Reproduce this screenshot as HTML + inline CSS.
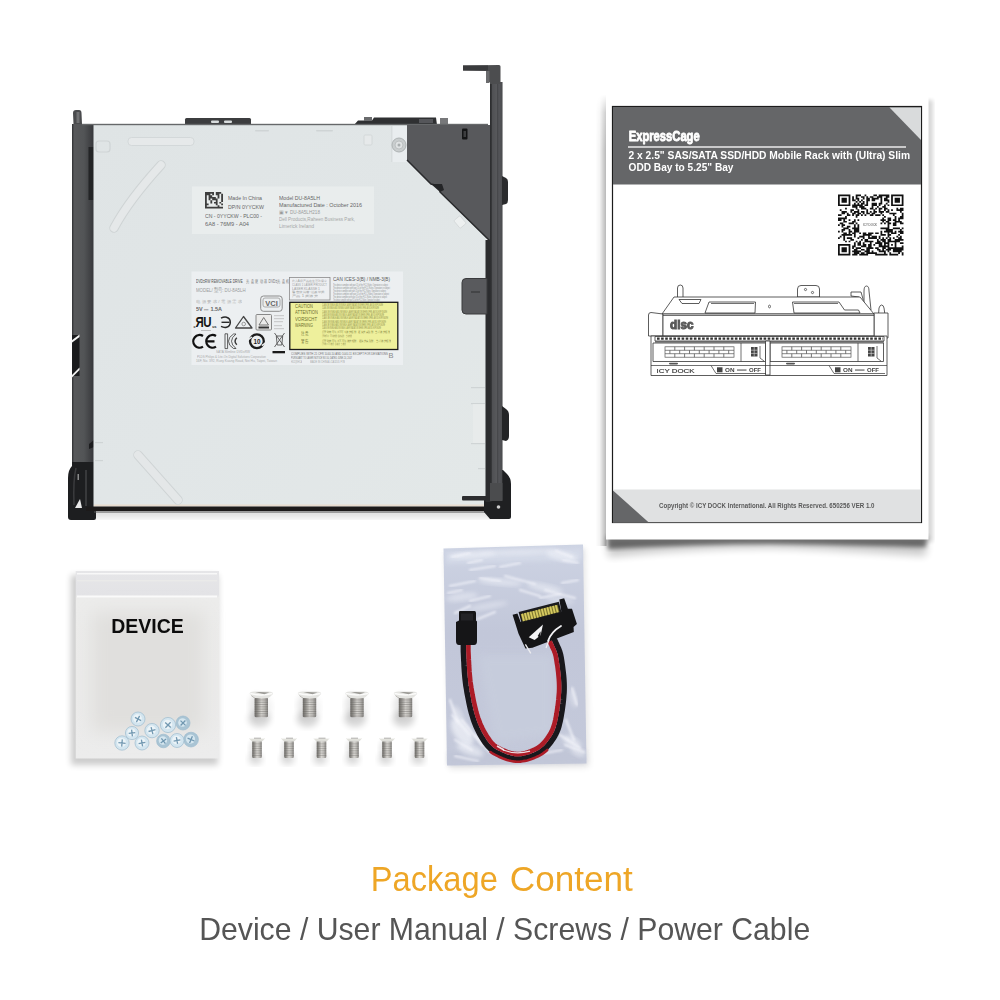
<!DOCTYPE html>
<html><head><meta charset="utf-8"><title>Package Content</title>
<style>
html,body{margin:0;padding:0;background:#fff;}
body{width:1000px;height:1000px;overflow:hidden;font-family:"Liberation Sans",sans-serif;}
svg{display:block;position:absolute;left:0;top:0}
text{font-family:"Liberation Sans",sans-serif;}
</style></head><body>
<svg width="1000" height="1000" viewBox="0 0 1000 1000">
<defs>
<filter id="b1" x="-20%" y="-20%" width="140%" height="140%"><feGaussianBlur stdDeviation="1"/></filter>
<filter id="b2" x="-20%" y="-20%" width="140%" height="140%"><feGaussianBlur stdDeviation="2"/></filter>
<filter id="b3" x="-20%" y="-20%" width="140%" height="140%"><feGaussianBlur stdDeviation="3"/></filter>
<filter id="b4" x="-30%" y="-30%" width="160%" height="160%"><feGaussianBlur stdDeviation="4.5"/></filter>
<filter id="b05" x="-20%" y="-20%" width="140%" height="140%"><feGaussianBlur stdDeviation="0.5"/></filter>
<linearGradient id="silver" x1="0" y1="0" x2="1" y2="1">
<stop offset="0" stop-color="#dfe4e5"/><stop offset="0.5" stop-color="#e1e6e7"/><stop offset="1" stop-color="#e3e8e8"/>
</linearGradient>
<linearGradient id="lframe" x1="0" y1="0" x2="1" y2="0">
<stop offset="0" stop-color="#2f3032"/><stop offset="0.1" stop-color="#58595b"/><stop offset="0.55" stop-color="#525456"/><stop offset="0.85" stop-color="#3f4043"/><stop offset="1" stop-color="#35363a"/>
</linearGradient>
<linearGradient id="rrail" x1="0" y1="0" x2="1" y2="0">
<stop offset="0" stop-color="#2c2d2f"/><stop offset="0.1" stop-color="#303133"/><stop offset="0.2" stop-color="#505154"/><stop offset="0.55" stop-color="#58595c"/><stop offset="0.62" stop-color="#404144"/><stop offset="0.7" stop-color="#55565a"/><stop offset="0.95" stop-color="#4c4d50"/><stop offset="1" stop-color="#3a3b3d"/>
</linearGradient>
<linearGradient id="screwg" x1="0" y1="0" x2="1" y2="0">
<stop offset="0" stop-color="#77776f"/><stop offset="0.35" stop-color="#d9d9d4"/><stop offset="0.6" stop-color="#c4c4be"/><stop offset="1" stop-color="#7d7d76"/>
</linearGradient>
</defs>
<g id="drive" opacity="0.999">
<rect x="76" y="508" width="430" height="10" fill="#000" opacity="0.12" filter="url(#b3)"/>
<rect x="185" y="118" width="66" height="8" rx="1.5" fill="#3c3d3f"/>
<rect x="211" y="120.5" width="8" height="2.5" rx="1" fill="#d8dcdd"/><rect x="224" y="120.5" width="8" height="2.5" rx="1" fill="#d8dcdd"/>
<path d="M354 125 L358 120.5 L372 120.5 L374 117.5 L436 117.5 L437 125 Z" fill="#2f3032"/>
<rect x="364" y="117" width="8" height="4" fill="#6a6b6d"/><rect x="440" y="118" width="8" height="6" fill="#77787a"/><rect x="419" y="119" width="14" height="4" fill="#55565a"/>
<path d="M73.5 124 L73 113 Q73 110 76 110 L79 110 Q81.5 110 81.5 113 L82 124 Z" fill="#4a4b4d"/>
<rect x="76.5" y="112" width="3" height="11" fill="#8a8b8d" opacity="0.6"/>
<rect x="72" y="124" width="22" height="342" fill="url(#lframe)"/>
<path d="M72 462 L94 462 L94 509 L96 509 L96 518 Q96 520 94 520 L71 520 Q68 520 68 517 L68 478 Q68 470 72 466 Z" fill="#1d1e20"/>
<path d="M76 468 Q73 480 74 505" stroke="#3a3b3d" stroke-width="1.5" fill="none"/>
<path d="M86 470 L86 506" stroke="#38393b" stroke-width="2" fill="none"/>
<path d="M75 508 L80 499 L82 508 Z" fill="#e8e8e8"/>
<rect x="77.5" y="474" width="1.5" height="6" fill="#bbb" opacity="0.7"/>
<path d="M94 147 L88.500 147 L88.500 200 L94 200 Z" fill="#232426"/>
<path d="M72 335 L79.500 335 L79.500 376 L72 376 Z" fill="#1a1b1d"/>
<path d="M71.500 340.500 L79.500 334.500 L79.500 337 L71.500 343 Z" fill="#f4f4f4"/>
<path d="M71.500 375.500 L79.500 367.500 L79.500 370 L71.500 378 Z" fill="#f4f4f4"/>
<path d="M94 440 L89 444 L89 449 L94 447 Z" fill="#1b1c1e"/>
<rect x="93.5" y="125" width="393" height="382" fill="url(#silver)"/>
<rect x="82" y="123.800" width="406" height="1.400" fill="#66686a"/>
<rect x="94" y="504.5" width="392" height="2" fill="#e8d8c8" opacity="0.8"/>
<rect x="86" y="506.5" width="404" height="4.5" fill="#1c1a1a"/>
<rect x="94" y="511" width="392" height="2" fill="#555" opacity="0.5"/>
<rect x="128" y="137.5" width="66" height="8" rx="3.5" fill="#e6e9ea" stroke="#cfd4d5" stroke-width="0.8"/>
<path d="M161 165 Q129 200 114 228" stroke="#cfd4d5" stroke-width="9.5" stroke-linecap="round" fill="none"/>
<path d="M161 165 Q129 200 114 228" stroke="#e5e8e9" stroke-width="7.5" stroke-linecap="round" fill="none"/>
<path d="M138 455 L178 500" stroke="#cfd4d5" stroke-width="9.5" stroke-linecap="round" fill="none"/>
<path d="M138 455 L178 500" stroke="#e4e7e8" stroke-width="7.8" stroke-linecap="round" fill="none"/>
<rect x="96" y="141" width="14" height="11" rx="3" fill="none" stroke="#cfd4d5" stroke-width="1.2"/>
<rect x="364" y="135" width="8" height="10" rx="1" fill="#e6e9ea" stroke="#cfd4d5" stroke-width="0.8"/>
<rect x="316" y="130" width="17" height="1.6" rx="0.8" fill="#cfd4d5"/>
<rect x="255" y="130" width="14" height="1.4" rx="0.7" fill="#cfd4d5"/>
<rect x="456" y="217" width="8" height="10" rx="1" fill="#edf0f0" stroke="#cfd4d5" stroke-width="0.7" transform="rotate(-40 460 222)"/>
<rect x="471" y="387" width="14" height="1.2" fill="#cfd4d5"/><rect x="471" y="403" width="14" height="1.2" fill="#cfd4d5"/><rect x="471" y="443" width="14" height="1.2" fill="#cfd4d5"/><rect x="478" y="468" width="7" height="1.2" fill="#cfd4d5"/>
<rect x="473" y="404" width="12" height="39" fill="#e9ecec" opacity="0.7"/>
<rect x="95" y="442" width="8" height="1.2" fill="#cfd4d5"/><rect x="95" y="460" width="8" height="1.2" fill="#cfd4d5"/>
<rect x="392" y="126" width="15" height="36" fill="#e9edef"/><rect x="391.500" y="126" width="0.800" height="36" fill="#cfd4d5"/>
<circle cx="399" cy="145" r="7" fill="#c9cdce" stroke="#aeb3b4" stroke-width="1"/><circle cx="399" cy="145" r="4" fill="#dfe2e3" stroke="#b5babb" stroke-width="0.8"/><circle cx="399" cy="145" r="1.5" fill="#a9aeaf"/>
<path d="M407 125 L490.500 125 L490.500 242 L440 192 L440 186 L431 184 L407 160 Z" fill="#58595c"/>
<path d="M407 160 L431 184 L440 186 L440 192 L490 241" stroke="#2a2b2d" stroke-width="1.5" fill="none"/>
<path d="M431 184 L442 184 L444 190 L440 192 Z" fill="#242527"/>
<rect x="462" y="128.5" width="5.5" height="11" rx="1" fill="#141516"/><rect x="463.5" y="131" width="2.5" height="6" fill="#3d3e40"/>
<path d="M486 470 L503 470 L507 474 Q511 478 511 484 L511 517 Q511 519 509 519 L490 519 L484 512 L484 500 L486 498 Z" fill="#1f2022"/>
<rect x="462" y="496" width="25" height="4.500" rx="1" fill="#2c2d2f"/>
<rect x="485.500" y="240" width="6" height="262" fill="#2b2c2e"/>
<rect x="490" y="82" width="12.5" height="418" fill="url(#rrail)"/>
<rect x="490" y="483" width="12.500" height="18" fill="#4b4c4e"/>
<circle cx="498.500" cy="507" r="1.800" fill="#cfcfcf"/>
<path d="M463 65.500 L499 65 Q500.500 65 500.500 66.500 L500.500 84 L490 84 L490 82 L486 82 L486 71 L463 70.500 Z" fill="#4c4d4f"/>
<rect x="463" y="65.500" width="25" height="5" fill="#3a3b3d"/>
<rect x="486" y="71" width="3.500" height="12" fill="#6a6b6d"/>
<path d="M502 176 L506 178 Q508 179 508 182 L508 200 Q508 203 506 204 L502 205 Z" fill="#2a2b2d"/>
<path d="M502 406 L506 409 Q509 411 509 415 L509 436 Q509 440 506 441 L502 440 Z" fill="#232426"/>
<path d="M466 278.500 L487 278.500 L487 314 L466 314 Q462 314 462 310 L462 282.500 Q462 278.500 466 278.500 Z" fill="#595a5d" stroke="#3a3b3d" stroke-width="1"/><rect x="471" y="291" width="9" height="2" fill="#3f4042" opacity="0.8"/>
<rect x="192" y="186.500" width="182" height="47.500" fill="#e9eded"/>
<path d="M205.00 192.00h1.80v1.65h-1.80zM206.80 192.00h1.80v1.65h-1.80zM208.60 192.00h1.80v1.65h-1.80zM210.40 192.00h1.80v1.65h-1.80zM212.20 192.00h1.80v1.65h-1.80zM215.80 192.00h1.80v1.65h-1.80zM217.60 192.00h1.80v1.65h-1.80zM219.40 192.00h1.80v1.65h-1.80zM205.00 193.65h1.80v1.65h-1.80zM206.80 193.65h1.80v1.65h-1.80zM208.60 193.65h1.80v1.65h-1.80zM212.20 193.65h1.80v1.65h-1.80zM215.80 193.65h1.80v1.65h-1.80zM217.60 193.65h1.80v1.65h-1.80zM221.20 193.65h1.80v1.65h-1.80zM205.00 195.30h1.80v1.65h-1.80zM208.60 195.30h1.80v1.65h-1.80zM210.40 195.30h1.80v1.65h-1.80zM217.60 195.30h1.80v1.65h-1.80zM221.20 195.30h1.80v1.65h-1.80zM205.00 196.95h1.80v1.65h-1.80zM208.60 196.95h1.80v1.65h-1.80zM210.40 196.95h1.80v1.65h-1.80zM212.20 196.95h1.80v1.65h-1.80zM214.00 196.95h1.80v1.65h-1.80zM217.60 196.95h1.80v1.65h-1.80zM221.20 196.95h1.80v1.65h-1.80zM205.00 198.60h1.80v1.65h-1.80zM208.60 198.60h1.80v1.65h-1.80zM212.20 198.60h1.80v1.65h-1.80zM214.00 198.60h1.80v1.65h-1.80zM215.80 198.60h1.80v1.65h-1.80zM221.20 198.60h1.80v1.65h-1.80zM205.00 200.25h1.80v1.65h-1.80zM210.40 200.25h1.80v1.65h-1.80zM215.80 200.25h1.80v1.65h-1.80zM221.20 200.25h1.80v1.65h-1.80zM205.00 201.90h1.80v1.65h-1.80zM210.40 201.90h1.80v1.65h-1.80zM214.00 201.90h1.80v1.65h-1.80zM215.80 201.90h1.80v1.65h-1.80zM219.40 201.90h1.80v1.65h-1.80zM205.00 203.55h1.80v1.65h-1.80zM206.80 203.55h1.80v1.65h-1.80zM215.80 203.55h1.80v1.65h-1.80zM221.20 203.55h1.80v1.65h-1.80zM205.00 205.20h1.80v1.65h-1.80zM217.60 205.20h1.80v1.65h-1.80zM205.00 206.85h1.80v1.65h-1.80zM206.80 206.85h1.80v1.65h-1.80zM208.60 206.85h1.80v1.65h-1.80zM210.40 206.85h1.80v1.65h-1.80zM212.20 206.85h1.80v1.65h-1.80zM214.00 206.85h1.80v1.65h-1.80zM215.80 206.85h1.80v1.65h-1.80zM217.60 206.85h1.80v1.65h-1.80zM219.40 206.85h1.80v1.65h-1.80zM221.20 206.85h1.80v1.65h-1.80z" fill="#2a2a2a" opacity="0.9"/>
<text x="228" y="199.6" font-size="4.8" font-weight="normal" fill="#444" opacity="0.8" textLength="34" lengthAdjust="spacingAndGlyphs">Made In China</text>
<text x="228" y="208.6" font-size="4.8" font-weight="normal" fill="#444" opacity="0.8" textLength="36" lengthAdjust="spacingAndGlyphs">DP/N 0YYCKW</text>
<text x="205" y="217.6" font-size="4.8" font-weight="normal" fill="#444" opacity="0.8" textLength="57" lengthAdjust="spacingAndGlyphs">CN - 0YYCKW - PLC00 -</text>
<text x="205" y="225.6" font-size="4.8" font-weight="normal" fill="#444" opacity="0.8" textLength="44" lengthAdjust="spacingAndGlyphs">6A8 - 76M9 - A04</text>
<text x="279" y="199.6" font-size="4.8" font-weight="normal" fill="#444" opacity="0.8" textLength="41" lengthAdjust="spacingAndGlyphs">Model DU-8A5LH</text>
<text x="279" y="207" font-size="4.8" font-weight="normal" fill="#444" opacity="0.8" textLength="83" lengthAdjust="spacingAndGlyphs">Manufactured Date : October 2016</text>
<text x="279" y="213.8" font-size="4.6" font-weight="normal" fill="#666" opacity="0.6" textLength="41" lengthAdjust="spacingAndGlyphs">&#9635;&#9660; DU-8A5LH218</text>
<text x="279" y="221.4" font-size="4.6" font-weight="normal" fill="#777" opacity="0.6" textLength="76" lengthAdjust="spacingAndGlyphs">Dell Products,Raheen Business Park,</text>
<text x="279" y="227.6" font-size="4.6" font-weight="normal" fill="#777" opacity="0.6" textLength="35" lengthAdjust="spacingAndGlyphs">Limerick Ireland</text>
<rect x="191.500" y="271.500" width="211.500" height="93.500" fill="#eceff1"/>
<g transform="translate(196 283) scale(0.72 1)"><text x="0" y="0" font-size="5.6" font-weight="normal" fill="#333" opacity="0.85" textLength="65" lengthAdjust="spacingAndGlyphs">DVD±RW REMOVABLE DRIVE</text></g>
<g transform="translate(246 283) scale(0.72 1)"><text x="0" y="0" font-size="5.2" font-weight="normal" fill="#444" opacity="0.7" textLength="61" lengthAdjust="spacingAndGlyphs">光 盘 驱 动 器 DVD±光 盘 机</text></g>
<g transform="translate(196 292.300) scale(0.8 1)"><text x="0" y="0" font-size="5.8" font-weight="normal" fill="#777" opacity="0.7" textLength="62" lengthAdjust="spacingAndGlyphs">MODEL/ 型号: DU-8A5LH</text></g>
<text x="196" y="302.8" font-size="4.4" font-weight="normal" fill="#888" opacity="0.6" textLength="46" lengthAdjust="spacingAndGlyphs">电 源 要 求 / 電 源 需 求</text>
<text x="196" y="310.6" font-size="4.6" font-weight="bold" fill="#444" opacity="0.8" textLength="26" lengthAdjust="spacingAndGlyphs">5V ⎓ 1.5A</text>
<text x="216" y="353.4" font-size="2.9" font-weight="normal" fill="#777" opacity="0.6" textLength="34" lengthAdjust="spacingAndGlyphs">SATA Slimline DVD±RW</text>
<text x="197" y="357.8" font-size="3.1" font-weight="normal" fill="#777" opacity="0.6" textLength="69" lengthAdjust="spacingAndGlyphs">PLDS Philips &amp; Lite-On Digital Solutions Corporation</text>
<text x="196" y="362" font-size="3.3" font-weight="normal" fill="#777" opacity="0.6" textLength="81" lengthAdjust="spacingAndGlyphs">16F, No. 392, Ruey Kuang Road, Nei Hu, Taipei, Taiwan</text>
<text x="291" y="355.4" font-size="3.1" font-weight="normal" fill="#444" opacity="0.75" textLength="97" lengthAdjust="spacingAndGlyphs">COMPLIES WITH 21 CFR 1040.10 AND 1040.11 EXCEPT FOR DEVIATIONS</text>
<text x="291" y="359.2" font-size="3.1" font-weight="normal" fill="#444" opacity="0.75" textLength="61" lengthAdjust="spacingAndGlyphs">PURSUANT TO LASER NOTICE NO.50, DATED JUNE 24, 2007</text>
<text x="291" y="362.8" font-size="3" font-weight="normal" fill="#777" opacity="0.6" textLength="11" lengthAdjust="spacingAndGlyphs">HD2Q8HCA</text>
<text x="310" y="362.8" font-size="3" font-weight="normal" fill="#777" opacity="0.6" textLength="35" lengthAdjust="spacingAndGlyphs">MADE IN CHINA  LCA3205  F7B</text>
<text x="333" y="281.3" font-size="4.8" font-weight="normal" fill="#333" opacity="0.8" textLength="57" lengthAdjust="spacingAndGlyphs">CAN ICES-3(B) / NMB-3(B)</text>
<text x="333" y="285.6" font-size="2.9" font-weight="normal" fill="#555" opacity="0.65" textLength="55" lengthAdjust="spacingAndGlyphs">This device complies with part 15 of the FCC Rules. Operation is subject</text>
<text x="333" y="288.6" font-size="2.9" font-weight="normal" fill="#555" opacity="0.65" textLength="57" lengthAdjust="spacingAndGlyphs">This device complies with part 15 of the FCC Rules. Operation is subject</text>
<text x="333" y="291.6" font-size="2.9" font-weight="normal" fill="#555" opacity="0.65" textLength="53" lengthAdjust="spacingAndGlyphs">This device complies with part 15 of the FCC Rules. Operation is subject</text>
<text x="333" y="294.6" font-size="2.9" font-weight="normal" fill="#555" opacity="0.65" textLength="56" lengthAdjust="spacingAndGlyphs">This device complies with part 15 of the FCC Rules. Operation is subject</text>
<text x="333" y="297.6" font-size="2.9" font-weight="normal" fill="#555" opacity="0.65" textLength="54" lengthAdjust="spacingAndGlyphs">This device complies with part 15 of the FCC Rules. Operation is subject</text>
<text x="333" y="300.6" font-size="2.9" font-weight="normal" fill="#555" opacity="0.65" textLength="47" lengthAdjust="spacingAndGlyphs">This device complies with part 15 of the FCC Rules. Operation is subject</text>
<rect x="289.500" y="277.500" width="40.500" height="22.500" fill="#eef0f2" stroke="#8a8a8a" stroke-width="0.8"/>
<text x="292" y="282" font-size="3" font-weight="normal" fill="#666" opacity="0.6" textLength="35" lengthAdjust="spacingAndGlyphs">此为A级产品,在生活环境中</text>
<text x="292" y="285.8" font-size="3" font-weight="normal" fill="#666" opacity="0.6" textLength="35" lengthAdjust="spacingAndGlyphs">CLASS 1 LASER PRODUCT</text>
<text x="292" y="289.6" font-size="3" font-weight="normal" fill="#666" opacity="0.6" textLength="28" lengthAdjust="spacingAndGlyphs">LASER KLASSE 1</text>
<text x="292" y="293.40000000000003" font-size="3" font-weight="normal" fill="#666" opacity="0.6" textLength="33" lengthAdjust="spacingAndGlyphs">警告使用者:这是甲类</text>
<text x="292" y="297.20000000000005" font-size="3" font-weight="normal" fill="#666" opacity="0.6" textLength="26" lengthAdjust="spacingAndGlyphs">产品 1 类激光</text>
<rect x="260.700" y="296" width="21.500" height="15.300" rx="2.800" fill="none" stroke="#8c8c8c" stroke-width="1"/>
<rect x="263" y="298" width="17" height="9" rx="2" fill="none" stroke="#9a9a9a" stroke-width="0.8"/>
<text opacity="0.999" x="265.300" y="306.300" font-size="7" font-weight="bold" fill="#666" textLength="12.500" lengthAdjust="spacingAndGlyphs">VCI</text>
<g transform="translate(203.800 327.400) scale(-0.82 1)"><text opacity="0.999" x="0" y="0" font-size="14" font-weight="bold" fill="#151515">R</text></g>
<g transform="translate(203.300 327.400) scale(0.82 1)"><text opacity="0.999" x="0" y="0" font-size="14" font-weight="bold" fill="#151515">U</text></g>
<text opacity="0.999" x="193.500" y="328" font-size="3.600" font-weight="bold" fill="#222">c</text><text opacity="0.999" x="212.300" y="328" font-size="3.600" font-weight="bold" fill="#222">us</text>
<rect x="201" y="330" width="10" height="0.800" fill="#777" opacity="0.5"/>
<path d="M221 318.200 Q224 316.600 226.500 317.200 Q230.300 318.300 230.300 322.300 Q230.300 326.300 226.500 327.300 Q224 327.900 221 326.400" stroke="#2a2a2a" stroke-width="1.500" fill="none"/>
<path d="M221.500 322.300 L229.500 322.300" stroke="#2a2a2a" stroke-width="1.400"/>
<path d="M243.500 316.500 L252 328 L235.500 328 Z" fill="none" stroke="#444" stroke-width="1.300" stroke-linejoin="round"/>
<circle cx="243.700" cy="324" r="1.800" fill="none" stroke="#777" stroke-width="0.700"/>
<rect x="256" y="314.500" width="15.500" height="15.500" rx="1" fill="#ebebea" stroke="#7d7d7d" stroke-width="0.900"/>
<path d="M263.700 317.500 L268.500 325 L259 325 Z" fill="none" stroke="#666" stroke-width="0.900"/>
<rect x="258.500" y="326.500" width="10.500" height="2" fill="#333"/>
<rect x="274" y="315" width="10" height="1.2" fill="#aaa" opacity="0.5"/>
<rect x="274" y="318" width="10" height="1.2" fill="#aaa" opacity="0.5"/>
<rect x="274" y="321" width="9" height="1.2" fill="#aaa" opacity="0.5"/>
<rect x="274" y="325" width="8" height="1.2" fill="#aaa" opacity="0.5"/>
<rect x="274" y="328" width="10" height="1.2" fill="#aaa" opacity="0.5"/>
<path d="M203 336 A6.3 6.3 0 1 0 203 346.600" stroke="#111" stroke-width="2.300" fill="none"/>
<path d="M216 336 A6.3 6.3 0 1 0 216 346.600 M207.300 341.300 L214.500 341.300" stroke="#111" stroke-width="2.300" fill="none"/>
<path d="M225 333.800 L227.600 333.800 L227.600 348.600 L225 348.600 Z" fill="none" stroke="#3a3a3a" stroke-width="0.800"/>
<path d="M236 334 L233.500 334 Q228.500 337 228.500 341.200 Q228.500 345.500 233.500 348.500 L236 348.500 Q231.500 345 231.500 341.200 Q231.500 337.500 236 334 Z" fill="none" stroke="#3a3a3a" stroke-width="0.800"/>
<path d="M236.800 337.800 Q233.300 341.200 236.800 344.800" stroke="#3a3a3a" stroke-width="1.500" fill="none"/>
<circle cx="256.900" cy="341.300" r="6.900" fill="none" stroke="#1c1c1c" stroke-width="2.300"/>
<text opacity="0.999" x="253.500" y="343.700" font-size="6.300" font-weight="bold" fill="#1c1c1c" textLength="7" lengthAdjust="spacingAndGlyphs">10</text>
<path d="M248.500 339.500 L252 337 M265.300 343 L261.800 345.600" stroke="#eceff1" stroke-width="1.500"/>
<path d="M274.500 333 L284.500 347 M284.500 333 L274.500 347" stroke="#555" stroke-width="0.900"/>
<path d="M276.300 336 L282.700 336 L281.800 345 L277.200 345 Z" fill="none" stroke="#555" stroke-width="0.900"/>
<rect x="272.500" y="351" width="12.500" height="2.300" fill="#1a1a1a"/>
<rect x="289.800" y="302.300" width="108" height="47.200" fill="#eef09c" stroke="#1a1a1a" stroke-width="1.300"/>
<text x="295" y="308.2" font-size="4.6" font-weight="normal" fill="#55571a" opacity="0.85" textLength="18" lengthAdjust="spacingAndGlyphs">CAUTION</text>
<text x="295" y="314.4" font-size="4.6" font-weight="normal" fill="#55571a" opacity="0.85" textLength="23" lengthAdjust="spacingAndGlyphs">ATTENTION</text>
<text x="295" y="320.9" font-size="4.6" font-weight="normal" fill="#55571a" opacity="0.85" textLength="22" lengthAdjust="spacingAndGlyphs">VORSICHT</text>
<text x="295" y="327.4" font-size="4.6" font-weight="normal" fill="#55571a" opacity="0.85" textLength="18" lengthAdjust="spacingAndGlyphs">WARNING</text>
<text x="301" y="335" font-size="4.6" font-weight="normal" fill="#55571a" opacity="0.85" textLength="8" lengthAdjust="spacingAndGlyphs">注 意</text>
<text x="301" y="343" font-size="4.6" font-weight="normal" fill="#55571a" opacity="0.85" textLength="8" lengthAdjust="spacingAndGlyphs">警 告</text>
<text x="322" y="306.2" font-size="2.9" font-weight="normal" fill="#5e601e" opacity="0.75" textLength="61" lengthAdjust="spacingAndGlyphs">CLASS 3B VISIBLE AND INVISIBLE LASER RADIATION WHEN OPEN. AVOID EXPOSURE</text>
<text x="322" y="309.4" font-size="2.9" font-weight="normal" fill="#5e601e" opacity="0.75" textLength="57" lengthAdjust="spacingAndGlyphs">CLASS 3B VISIBLE AND INVISIBLE LASER RADIATION WHEN OPEN. AVOID EXPOSURE</text>
<text x="322" y="312.8" font-size="2.9" font-weight="normal" fill="#5e601e" opacity="0.75" textLength="65" lengthAdjust="spacingAndGlyphs">CLASS 3B VISIBLE AND INVISIBLE LASER RADIATION WHEN OPEN. AVOID EXPOSURE</text>
<text x="322" y="316.1" font-size="2.9" font-weight="normal" fill="#5e601e" opacity="0.75" textLength="62" lengthAdjust="spacingAndGlyphs">CLASS 3B VISIBLE AND INVISIBLE LASER RADIATION WHEN OPEN. AVOID EXPOSURE</text>
<text x="322" y="319.4" font-size="2.9" font-weight="normal" fill="#5e601e" opacity="0.75" textLength="66" lengthAdjust="spacingAndGlyphs">CLASS 3B VISIBLE AND INVISIBLE LASER RADIATION WHEN OPEN. AVOID EXPOSURE</text>
<text x="322" y="322.7" font-size="2.9" font-weight="normal" fill="#5e601e" opacity="0.75" textLength="64" lengthAdjust="spacingAndGlyphs">CLASS 3B VISIBLE AND INVISIBLE LASER RADIATION WHEN OPEN. AVOID EXPOSURE</text>
<text x="322" y="326" font-size="2.9" font-weight="normal" fill="#5e601e" opacity="0.75" textLength="63" lengthAdjust="spacingAndGlyphs">CLASS 3B VISIBLE AND INVISIBLE LASER RADIATION WHEN OPEN. AVOID EXPOSURE</text>
<text x="322" y="329.3" font-size="2.9" font-weight="normal" fill="#5e601e" opacity="0.75" textLength="59" lengthAdjust="spacingAndGlyphs">CLASS 3B VISIBLE AND INVISIBLE LASER RADIATION WHEN OPEN. AVOID EXPOSURE</text>
<text x="322" y="333.3" font-size="3.2" font-weight="normal" fill="#5e601e" opacity="0.75" textLength="68" lengthAdjust="spacingAndGlyphs">打开时有可见及不可见激光辐射。避免光束照射。当心激光辐射</text>
<text x="322" y="337.1" font-size="3.2" font-weight="normal" fill="#5e601e" opacity="0.75" textLength="30" lengthAdjust="spacingAndGlyphs">打开时有可见及不可见激光辐射。避免光束照射。当心激光辐射</text>
<text x="322" y="341.6" font-size="3.2" font-weight="normal" fill="#5e601e" opacity="0.75" textLength="69" lengthAdjust="spacingAndGlyphs">打开时有可见及不可见激光辐射。避免光束照射。当心激光辐射</text>
<text x="322" y="345.4" font-size="3.2" font-weight="normal" fill="#5e601e" opacity="0.75" textLength="24" lengthAdjust="spacingAndGlyphs">打开时有可见及不可见激光辐射。避免光束照射。当心激光辐射</text>
<text opacity="0.999" x="388.500" y="358.200" font-size="7.500" fill="#8a8a8a">B</text>
</g>
<g id="manual" opacity="0.999">
<path d="M607 538 L927 538 L926 556 Q800 548 770 548 Q700 548 608 557 Z" fill="#000" opacity="0.22" filter="url(#b4)"/>
<path d="M607 536 L927 536 L926 547 Q800 544 770 544 Q700 544 608 549 Z" fill="#000" opacity="0.50" filter="url(#b2)"/>
<linearGradient id="lsh" x1="0" y1="0" x2="1" y2="0"><stop offset="0" stop-color="#000" stop-opacity="0"/><stop offset="0.4" stop-color="#000" stop-opacity="0.05"/><stop offset="1" stop-color="#000" stop-opacity="0.30"/></linearGradient>
<linearGradient id="lshm" x1="0" y1="0" x2="0" y2="1"><stop offset="0" stop-color="#fff" stop-opacity="0"/><stop offset="0.04" stop-color="#fff" stop-opacity="0.7"/><stop offset="0.12" stop-color="#fff" stop-opacity="1"/><stop offset="1" stop-color="#fff" stop-opacity="1"/></linearGradient>
<mask id="lshmask"><rect x="590" y="94" width="20" height="460" fill="url(#lshm)"/></mask>
<rect x="595" y="94" width="11.500" height="452" fill="url(#lsh)" mask="url(#lshmask)"/>
<rect x="925" y="100" width="8" height="442" fill="#000" opacity="0.16" filter="url(#b2)"/>
<rect x="606" y="95" width="322.500" height="444.500" fill="#ffffff"/>
<rect x="612.500" y="106.500" width="309" height="416" fill="#fff" stroke="#1c1c1c" stroke-width="1.200"/>
<rect x="613" y="107" width="308" height="77.500" fill="#656668"/>
<path d="M889.500 107.500 L921 107.500 L921 140 Z" fill="#d9dbdc"/>
<g transform="translate(628.700 141.400) scale(0.62 1)"><text opacity="0.999" x="0" y="0" font-size="14.800" font-weight="bold" fill="#fff" stroke="#fff" stroke-width="0.900" stroke-linejoin="round" textLength="114.500" lengthAdjust="spacingAndGlyphs">ExpressCage</text></g>
<rect x="628" y="146.300" width="278" height="1.400" fill="#f4f4f4"/>
<text opacity="0.999" x="628.500" y="159.200" font-size="10" font-weight="bold" fill="#fff" textLength="281.500" lengthAdjust="spacingAndGlyphs">2 x 2.5" SAS/SATA SSD/HDD Mobile Rack with (Ultra) Slim</text>
<text opacity="0.999" x="628.500" y="170.700" font-size="10" font-weight="bold" fill="#fff" textLength="105" lengthAdjust="spacingAndGlyphs">ODD Bay to 5.25" Bay</text>
<path d="M838.00 194.50h12.39v1.70h-12.39zM855.70 194.50h5.31v1.70h-5.31zM864.55 194.50h1.77v1.70h-1.77zM873.41 194.50h3.54v1.70h-3.54zM878.72 194.50h10.62v1.70h-10.62zM891.11 194.50h12.39v1.70h-12.39zM838.00 196.15h1.77v1.70h-1.77zM848.62 196.15h1.77v1.70h-1.77zM852.16 196.15h1.77v1.70h-1.77zM855.70 196.15h1.77v1.70h-1.77zM861.01 196.15h3.54v1.70h-3.54zM866.32 196.15h1.77v1.70h-1.77zM869.86 196.15h3.54v1.70h-3.54zM876.95 196.15h5.31v1.70h-5.31zM885.80 196.15h3.54v1.70h-3.54zM891.11 196.15h1.77v1.70h-1.77zM901.73 196.15h1.77v1.70h-1.77zM838.00 197.80h1.77v1.70h-1.77zM841.54 197.80h5.31v1.70h-5.31zM848.62 197.80h1.77v1.70h-1.77zM852.16 197.80h1.77v1.70h-1.77zM855.70 197.80h3.54v1.70h-3.54zM862.78 197.80h1.77v1.70h-1.77zM866.32 197.80h3.54v1.70h-3.54zM871.64 197.80h7.08v1.70h-7.08zM880.49 197.80h1.77v1.70h-1.77zM884.03 197.80h3.54v1.70h-3.54zM891.11 197.80h1.77v1.70h-1.77zM894.65 197.80h5.31v1.70h-5.31zM901.73 197.80h1.77v1.70h-1.77zM838.00 199.45h1.77v1.70h-1.77zM841.54 199.45h5.31v1.70h-5.31zM848.62 199.45h1.77v1.70h-1.77zM852.16 199.45h3.54v1.70h-3.54zM857.47 199.45h1.77v1.70h-1.77zM861.01 199.45h1.77v1.70h-1.77zM866.32 199.45h3.54v1.70h-3.54zM871.64 199.45h3.54v1.70h-3.54zM880.49 199.45h1.77v1.70h-1.77zM884.03 199.45h5.31v1.70h-5.31zM891.11 199.45h1.77v1.70h-1.77zM894.65 199.45h5.31v1.70h-5.31zM901.73 199.45h1.77v1.70h-1.77zM838.00 201.09h1.77v1.70h-1.77zM841.54 201.09h5.31v1.70h-5.31zM848.62 201.09h1.77v1.70h-1.77zM855.70 201.09h1.77v1.70h-1.77zM859.24 201.09h1.77v1.70h-1.77zM862.78 201.09h1.77v1.70h-1.77zM866.32 201.09h1.77v1.70h-1.77zM880.49 201.09h1.77v1.70h-1.77zM887.57 201.09h1.77v1.70h-1.77zM891.11 201.09h1.77v1.70h-1.77zM894.65 201.09h5.31v1.70h-5.31zM901.73 201.09h1.77v1.70h-1.77zM838.00 202.74h1.77v1.70h-1.77zM848.62 202.74h1.77v1.70h-1.77zM853.93 202.74h1.77v1.70h-1.77zM857.47 202.74h1.77v1.70h-1.77zM861.01 202.74h3.54v1.70h-3.54zM866.32 202.74h1.77v1.70h-1.77zM871.64 202.74h5.31v1.70h-5.31zM878.72 202.74h3.54v1.70h-3.54zM885.80 202.74h1.77v1.70h-1.77zM891.11 202.74h1.77v1.70h-1.77zM901.73 202.74h1.77v1.70h-1.77zM838.00 204.39h12.39v1.70h-12.39zM852.16 204.39h10.62v1.70h-10.62zM864.55 204.39h3.54v1.70h-3.54zM871.64 204.39h5.31v1.70h-5.31zM878.72 204.39h1.77v1.70h-1.77zM884.03 204.39h1.77v1.70h-1.77zM887.57 204.39h1.77v1.70h-1.77zM891.11 204.39h12.39v1.70h-12.39zM852.16 206.04h5.31v1.70h-5.31zM859.24 206.04h5.31v1.70h-5.31zM871.64 206.04h1.77v1.70h-1.77zM876.95 206.04h1.77v1.70h-1.77zM882.26 206.04h3.54v1.70h-3.54zM845.08 207.69h1.77v1.70h-1.77zM855.70 207.69h1.77v1.70h-1.77zM861.01 207.69h5.31v1.70h-5.31zM869.86 207.69h3.54v1.70h-3.54zM875.18 207.69h1.77v1.70h-1.77zM878.72 207.69h3.54v1.70h-3.54zM884.03 207.69h3.54v1.70h-3.54zM896.42 207.69h1.77v1.70h-1.77zM899.96 207.69h3.54v1.70h-3.54zM839.77 209.34h1.77v1.70h-1.77zM850.39 209.34h3.54v1.70h-3.54zM857.47 209.34h1.77v1.70h-1.77zM866.32 209.34h1.77v1.70h-1.77zM873.41 209.34h1.77v1.70h-1.77zM878.72 209.34h1.77v1.70h-1.77zM884.03 209.34h1.77v1.70h-1.77zM887.57 209.34h1.77v1.70h-1.77zM891.11 209.34h1.77v1.70h-1.77zM896.42 209.34h7.08v1.70h-7.08zM841.54 210.99h5.31v1.70h-5.31zM850.39 210.99h1.77v1.70h-1.77zM853.93 210.99h5.31v1.70h-5.31zM861.01 210.99h3.54v1.70h-3.54zM866.32 210.99h1.77v1.70h-1.77zM869.86 210.99h1.77v1.70h-1.77zM873.41 210.99h3.54v1.70h-3.54zM878.72 210.99h5.31v1.70h-5.31zM885.80 210.99h3.54v1.70h-3.54zM899.96 210.99h1.77v1.70h-1.77zM841.54 212.64h3.54v1.70h-3.54zM846.85 212.64h1.77v1.70h-1.77zM852.16 212.64h3.54v1.70h-3.54zM857.47 212.64h3.54v1.70h-3.54zM862.78 212.64h1.77v1.70h-1.77zM866.32 212.64h3.54v1.70h-3.54zM871.64 212.64h3.54v1.70h-3.54zM880.49 212.64h1.77v1.70h-1.77zM889.34 212.64h7.08v1.70h-7.08zM901.73 212.64h1.77v1.70h-1.77zM838.00 214.28h3.54v1.70h-3.54zM846.85 214.28h3.54v1.70h-3.54zM852.16 214.28h1.77v1.70h-1.77zM855.70 214.28h3.54v1.70h-3.54zM861.01 214.28h1.77v1.70h-1.77zM864.55 214.28h1.77v1.70h-1.77zM869.86 214.28h3.54v1.70h-3.54zM875.18 214.28h5.31v1.70h-5.31zM882.26 214.28h1.77v1.70h-1.77zM892.88 214.28h1.77v1.70h-1.77zM901.73 214.28h1.77v1.70h-1.77zM845.08 215.93h1.77v1.70h-1.77zM855.70 215.93h1.77v1.70h-1.77zM884.03 215.93h1.77v1.70h-1.77zM894.65 215.93h1.77v1.70h-1.77zM899.96 215.93h3.54v1.70h-3.54zM838.00 217.58h8.85v1.70h-8.85zM882.26 217.58h1.77v1.70h-1.77zM887.57 217.58h3.54v1.70h-3.54zM894.65 217.58h1.77v1.70h-1.77zM898.19 217.58h5.31v1.70h-5.31zM838.00 219.23h3.54v1.70h-3.54zM843.31 219.23h1.77v1.70h-1.77zM848.62 219.23h1.77v1.70h-1.77zM853.93 219.23h1.77v1.70h-1.77zM857.47 219.23h1.77v1.70h-1.77zM880.49 219.23h5.31v1.70h-5.31zM887.57 219.23h3.54v1.70h-3.54zM892.88 219.23h3.54v1.70h-3.54zM898.19 219.23h1.77v1.70h-1.77zM843.31 220.88h3.54v1.70h-3.54zM852.16 220.88h3.54v1.70h-3.54zM882.26 220.88h1.77v1.70h-1.77zM885.80 220.88h3.54v1.70h-3.54zM894.65 220.88h7.08v1.70h-7.08zM839.77 222.53h3.54v1.70h-3.54zM848.62 222.53h5.31v1.70h-5.31zM855.70 222.53h1.77v1.70h-1.77zM880.49 222.53h1.77v1.70h-1.77zM884.03 222.53h1.77v1.70h-1.77zM887.57 222.53h3.54v1.70h-3.54zM892.88 222.53h3.54v1.70h-3.54zM899.96 222.53h3.54v1.70h-3.54zM838.00 224.18h1.77v1.70h-1.77zM841.54 224.18h3.54v1.70h-3.54zM853.93 224.18h1.77v1.70h-1.77zM857.47 224.18h1.77v1.70h-1.77zM887.57 224.18h1.77v1.70h-1.77zM892.88 224.18h3.54v1.70h-3.54zM841.54 225.82h1.77v1.70h-1.77zM846.85 225.82h3.54v1.70h-3.54zM853.93 225.82h1.77v1.70h-1.77zM857.47 225.82h1.77v1.70h-1.77zM887.57 225.82h1.77v1.70h-1.77zM843.31 227.47h5.31v1.70h-5.31zM852.16 227.47h7.08v1.70h-7.08zM880.49 227.47h8.85v1.70h-8.85zM892.88 227.47h7.08v1.70h-7.08zM901.73 227.47h1.77v1.70h-1.77zM841.54 229.12h3.54v1.70h-3.54zM848.62 229.12h1.77v1.70h-1.77zM853.93 229.12h5.31v1.70h-5.31zM885.80 229.12h7.08v1.70h-7.08zM899.96 229.12h1.77v1.70h-1.77zM838.00 230.77h1.77v1.70h-1.77zM841.54 230.77h1.77v1.70h-1.77zM848.62 230.77h3.54v1.70h-3.54zM853.93 230.77h5.31v1.70h-5.31zM880.49 230.77h1.77v1.70h-1.77zM884.03 230.77h8.85v1.70h-8.85zM894.65 230.77h1.77v1.70h-1.77zM898.19 230.77h5.31v1.70h-5.31zM843.31 232.42h3.54v1.70h-3.54zM848.62 232.42h1.77v1.70h-1.77zM852.16 232.42h3.54v1.70h-3.54zM859.24 232.42h1.77v1.70h-1.77zM862.78 232.42h3.54v1.70h-3.54zM868.09 232.42h5.31v1.70h-5.31zM875.18 232.42h3.54v1.70h-3.54zM880.49 232.42h1.77v1.70h-1.77zM887.57 232.42h1.77v1.70h-1.77zM891.11 232.42h5.31v1.70h-5.31zM899.96 232.42h3.54v1.70h-3.54zM841.54 234.07h10.62v1.70h-10.62zM853.93 234.07h1.77v1.70h-1.77zM862.78 234.07h8.85v1.70h-8.85zM880.49 234.07h5.31v1.70h-5.31zM887.57 234.07h3.54v1.70h-3.54zM898.19 234.07h1.77v1.70h-1.77zM839.77 235.72h1.77v1.70h-1.77zM843.31 235.72h1.77v1.70h-1.77zM853.93 235.72h1.77v1.70h-1.77zM859.24 235.72h5.31v1.70h-5.31zM868.09 235.72h1.77v1.70h-1.77zM871.64 235.72h5.31v1.70h-5.31zM878.72 235.72h1.77v1.70h-1.77zM887.57 235.72h1.77v1.70h-1.77zM896.42 235.72h1.77v1.70h-1.77zM899.96 235.72h1.77v1.70h-1.77zM838.00 237.36h1.77v1.70h-1.77zM843.31 237.36h1.77v1.70h-1.77zM846.85 237.36h5.31v1.70h-5.31zM857.47 237.36h1.77v1.70h-1.77zM862.78 237.36h1.77v1.70h-1.77zM868.09 237.36h8.85v1.70h-8.85zM878.72 237.36h1.77v1.70h-1.77zM882.26 237.36h1.77v1.70h-1.77zM885.80 237.36h1.77v1.70h-1.77zM889.34 237.36h1.77v1.70h-1.77zM892.88 237.36h1.77v1.70h-1.77zM898.19 237.36h3.54v1.70h-3.54zM843.31 239.01h1.77v1.70h-1.77zM850.39 239.01h3.54v1.70h-3.54zM861.01 239.01h1.77v1.70h-1.77zM864.55 239.01h3.54v1.70h-3.54zM876.95 239.01h1.77v1.70h-1.77zM880.49 239.01h5.31v1.70h-5.31zM887.57 239.01h3.54v1.70h-3.54zM894.65 239.01h8.85v1.70h-8.85zM845.08 240.66h1.77v1.70h-1.77zM848.62 240.66h1.77v1.70h-1.77zM855.70 240.66h1.77v1.70h-1.77zM859.24 240.66h1.77v1.70h-1.77zM864.55 240.66h8.85v1.70h-8.85zM876.95 240.66h3.54v1.70h-3.54zM882.26 240.66h3.54v1.70h-3.54zM887.57 240.66h12.39v1.70h-12.39zM853.93 242.31h1.77v1.70h-1.77zM857.47 242.31h3.54v1.70h-3.54zM862.78 242.31h1.77v1.70h-1.77zM869.86 242.31h1.77v1.70h-1.77zM875.18 242.31h7.08v1.70h-7.08zM884.03 242.31h5.31v1.70h-5.31zM894.65 242.31h1.77v1.70h-1.77zM899.96 242.31h3.54v1.70h-3.54zM838.00 243.96h12.39v1.70h-12.39zM853.93 243.96h1.77v1.70h-1.77zM857.47 243.96h3.54v1.70h-3.54zM862.78 243.96h3.54v1.70h-3.54zM868.09 243.96h3.54v1.70h-3.54zM873.41 243.96h1.77v1.70h-1.77zM878.72 243.96h3.54v1.70h-3.54zM884.03 243.96h1.77v1.70h-1.77zM887.57 243.96h1.77v1.70h-1.77zM891.11 243.96h1.77v1.70h-1.77zM894.65 243.96h1.77v1.70h-1.77zM838.00 245.61h1.77v1.70h-1.77zM848.62 245.61h1.77v1.70h-1.77zM852.16 245.61h3.54v1.70h-3.54zM861.01 245.61h5.31v1.70h-5.31zM868.09 245.61h3.54v1.70h-3.54zM878.72 245.61h10.62v1.70h-10.62zM894.65 245.61h1.77v1.70h-1.77zM901.73 245.61h1.77v1.70h-1.77zM838.00 247.26h1.77v1.70h-1.77zM841.54 247.26h5.31v1.70h-5.31zM848.62 247.26h1.77v1.70h-1.77zM852.16 247.26h1.77v1.70h-1.77zM855.70 247.26h5.31v1.70h-5.31zM866.32 247.26h7.08v1.70h-7.08zM875.18 247.26h3.54v1.70h-3.54zM882.26 247.26h3.54v1.70h-3.54zM887.57 247.26h15.93v1.70h-15.93zM838.00 248.91h1.77v1.70h-1.77zM841.54 248.91h5.31v1.70h-5.31zM848.62 248.91h1.77v1.70h-1.77zM853.93 248.91h3.54v1.70h-3.54zM861.01 248.91h3.54v1.70h-3.54zM866.32 248.91h3.54v1.70h-3.54zM876.95 248.91h3.54v1.70h-3.54zM882.26 248.91h1.77v1.70h-1.77zM885.80 248.91h5.31v1.70h-5.31zM892.88 248.91h10.62v1.70h-10.62zM838.00 250.55h1.77v1.70h-1.77zM841.54 250.55h5.31v1.70h-5.31zM848.62 250.55h1.77v1.70h-1.77zM852.16 250.55h8.85v1.70h-8.85zM864.55 250.55h5.31v1.70h-5.31zM871.64 250.55h1.77v1.70h-1.77zM878.72 250.55h7.08v1.70h-7.08zM887.57 250.55h1.77v1.70h-1.77zM892.88 250.55h8.85v1.70h-8.85zM838.00 252.20h1.77v1.70h-1.77zM848.62 252.20h1.77v1.70h-1.77zM853.93 252.20h5.31v1.70h-5.31zM861.01 252.20h3.54v1.70h-3.54zM866.32 252.20h10.62v1.70h-10.62zM884.03 252.20h1.77v1.70h-1.77zM889.34 252.20h1.77v1.70h-1.77zM898.19 252.20h1.77v1.70h-1.77zM901.73 252.20h1.77v1.70h-1.77zM838.00 253.85h12.39v1.70h-12.39zM852.16 253.85h5.31v1.70h-5.31zM859.24 253.85h8.85v1.70h-8.85zM875.18 253.85h12.39v1.70h-12.39zM889.34 253.85h8.85v1.70h-8.85zM901.73 253.85h1.77v1.70h-1.77z" fill="#111"/>
<text opacity="0.999" x="863" y="226.300" font-size="3.300" fill="#333" textLength="14" lengthAdjust="spacingAndGlyphs">ICY DOCK</text>
<rect x="613" y="489.500" width="308" height="32.800" fill="#e0e1e2"/>
<path d="M613 490.500 L613 522.300 L648.500 522.300 Z" fill="#656668"/>
<text x="659" y="507.600" font-size="6.300" font-weight="bold" fill="#4a4a4a" textLength="215.500" lengthAdjust="spacingAndGlyphs" opacity="0.9">Copyright © ICY DOCK International. All Rights Reserved. 650256 VER 1.0</text>
<g id="linedraw"><path d="M677.500 300 L677.500 288 Q677.500 285 680.300 285 Q683 285 683 288 L683 300 Z" stroke="#333" stroke-width="0.800" fill="#fff" stroke-linejoin="round"/>
<path d="M797.500 297 L797.500 289 Q797.500 285.500 801 285.500 L816 285.500 Q819.500 285.500 819.500 289 L819.500 297 Z" stroke="#333" stroke-width="0.800" fill="#fff" stroke-linejoin="round"/>
<circle cx="805.500" cy="289.500" r="1.100" stroke="#333" stroke-width="0.700" fill="none"/><circle cx="812.500" cy="292.500" r="1.100" stroke="#333" stroke-width="0.700" fill="none"/>
<path d="M864 310 L864 291 Q864 286 866.500 286 Q869 286 869 291 L871 310 Z" stroke="#333" stroke-width="0.800" fill="#fff" stroke-linejoin="round"/>
<path d="M851 292 L861 292 L863 299 L863 311 L859 311 L859 297 L851 296 Z" stroke="#333" stroke-width="0.800" fill="#fff" stroke-linejoin="round"/>
<path d="M878.500 315 L879 308 Q880 305 881.500 305 Q883.500 305 884 308 L885 315 Z" stroke="#333" stroke-width="0.800" fill="#fff" stroke-linejoin="round"/>
<path d="M662 314 L674 297 L860 297 L874 314 Z" stroke="#333" stroke-width="0.800" fill="#fff" stroke-linejoin="round"/>
<path d="M705 313 L709 302 L755.500 302 L755 313 Z" stroke="#333" stroke-width="0.800" fill="#fff" stroke-linejoin="round"/>
<path d="M711 303.500 L754 303.500" stroke="#333" stroke-width="0.700" fill="none"/>
<path d="M794 313 L792.500 302 L839 302 L844.500 310 L858.500 310 L860 313 Z" stroke="#333" stroke-width="0.800" fill="#fff" stroke-linejoin="round"/>
<path d="M794 303.500 L838 303.500" stroke="#333" stroke-width="0.700" fill="none"/>
<path d="M679 299.500 L701 299.500 L699 303.500 L682 303.500 Z" stroke="#333" stroke-width="0.800" fill="#fff" stroke-linejoin="round"/>
<ellipse cx="769.500" cy="306.500" rx="1" ry="1.400" stroke="#333" stroke-width="0.700" fill="none"/>
<path d="M648.500 336 L648.500 315 Q648.500 312.500 651 312.500 L663 314 L663 336 Z" stroke="#333" stroke-width="0.800" fill="#fff" stroke-linejoin="round"/>
<path d="M874 313 L888 313 L888 338 L874 338 Z" stroke="#333" stroke-width="0.800" fill="#fff" stroke-linejoin="round"/>
<rect x="663" y="314" width="211" height="22" stroke="#333" stroke-width="0.800" fill="#fff" stroke-linejoin="round"/>
<path d="M663 315.500 L874 315.500" stroke="#333" stroke-width="0.700" fill="none"/>
<g transform="translate(670 329.300) scale(0.78 1)"><text opacity="0.999" x="0" y="0" font-size="12.500" font-weight="bold" fill="#5a5a5a" stroke="#5a5a5a" stroke-width="1" textLength="30" lengthAdjust="spacingAndGlyphs">disc</text></g>
<rect x="651" y="336" width="236" height="39.500" stroke="#333" stroke-width="0.800" fill="#fff" stroke-linejoin="round"/>
<rect x="655" y="336.500" width="229" height="4.500" stroke="#333" stroke-width="0.800" fill="#fff" stroke-linejoin="round"/>
<path d="M657 338.600 L883 338.600" stroke="#333" stroke-width="2.200" stroke-dasharray="2.600 1.500" fill="none"/>
<path d="M655 341.800 L884 341.800" stroke="#555" stroke-width="1.200" fill="none"/>
<rect x="653" y="343" width="112.5" height="18.500" stroke="#333" stroke-width="0.800" fill="#fff" stroke-linejoin="round"/>
<rect x="665" y="346.800" width="69" height="10.400" fill="#fff" stroke="#555" stroke-width="0.700"/>
<path d="M665 350.300 h69 M665 353.700 h69" stroke="#555" stroke-width="0.700" fill="none"/>
<path d="M674.8 346.80 v3.470 M684.6 346.80 v3.470 M694.4 346.80 v3.470 M704.2 346.80 v3.470 M714.0 346.80 v3.470 M723.8 346.80 v3.470 M669.9 350.27 v3.470 M679.7 350.27 v3.470 M689.5 350.27 v3.470 M699.3 350.27 v3.470 M709.1 350.27 v3.470 M718.9 350.27 v3.470 M728.7 350.27 v3.470 M674.8 353.74 v3.470 M684.6 353.74 v3.470 M694.4 353.74 v3.470 M704.2 353.74 v3.470 M714.0 353.74 v3.470 M723.8 353.74 v3.470" stroke="#555" stroke-width="0.800" fill="none"/>
<path d="M741 343 L741 361.500" stroke="#333" stroke-width="0.700" fill="none"/>
<rect x="751" y="347" width="6.500" height="9.500" fill="#444"/>
<path d="M751 350.200 h6.500 M751 353.400 h6.500 M754.2 347 v9.500" stroke="#ddd" stroke-width="0.600"/>
<path d="M760 346 L760 358 L764 361" stroke="#333" stroke-width="0.700" fill="none"/>
<rect x="669" y="362.800" width="9" height="1.600" rx="0.800" fill="#555"/>
<rect x="770" y="343" width="113.5" height="18.500" stroke="#333" stroke-width="0.800" fill="#fff" stroke-linejoin="round"/>
<rect x="782" y="346.800" width="69" height="10.400" fill="#fff" stroke="#555" stroke-width="0.700"/>
<path d="M782 350.300 h69 M782 353.700 h69" stroke="#555" stroke-width="0.700" fill="none"/>
<path d="M791.8 346.80 v3.470 M801.6 346.80 v3.470 M811.4 346.80 v3.470 M821.2 346.80 v3.470 M831.0 346.80 v3.470 M840.8 346.80 v3.470 M786.9 350.27 v3.470 M796.7 350.27 v3.470 M806.5 350.27 v3.470 M816.3 350.27 v3.470 M826.1 350.27 v3.470 M835.9 350.27 v3.470 M845.7 350.27 v3.470 M791.8 353.74 v3.470 M801.6 353.74 v3.470 M811.4 353.74 v3.470 M821.2 353.74 v3.470 M831.0 353.74 v3.470 M840.8 353.74 v3.470" stroke="#555" stroke-width="0.800" fill="none"/>
<path d="M858 343 L858 361.500" stroke="#333" stroke-width="0.700" fill="none"/>
<rect x="868" y="347" width="6.500" height="9.500" fill="#444"/>
<path d="M868 350.200 h6.500 M868 353.400 h6.500 M871.2 347 v9.500" stroke="#ddd" stroke-width="0.600"/>
<path d="M877 346 L877 358 L881 361" stroke="#333" stroke-width="0.700" fill="none"/>
<rect x="786" y="362.800" width="9" height="1.600" rx="0.800" fill="#555"/>
<rect x="765.500" y="341" width="4.500" height="34" stroke="#333" stroke-width="0.800" fill="#fff" stroke-linejoin="round"/>
<path d="M651 365.500 L887 365.500" stroke="#333" stroke-width="0.700" fill="none"/>
<path d="M711 365.500 L716 373.500 L766 373.500" stroke="#333" stroke-width="0.700" fill="none"/>
<path d="M829 365.500 L834 373.500 L885 373.500" stroke="#333" stroke-width="0.700" fill="none"/>
<text opacity="0.999" x="656.500" y="373.300" font-size="6.200" fill="#333" stroke="#333" stroke-width="0.150" textLength="38" lengthAdjust="spacingAndGlyphs">ICY DOCK</text>
<rect x="717" y="367.300" width="5.500" height="5" fill="#444"/>
<text opacity="0.999" x="725" y="372.300" font-size="5" font-weight="bold" fill="#444" textLength="9.500" lengthAdjust="spacingAndGlyphs">ON</text>
<rect x="737" y="369.500" width="9.500" height="1.100" fill="#555"/>
<text opacity="0.999" x="749" y="372.300" font-size="5" font-weight="bold" fill="#444" textLength="12" lengthAdjust="spacingAndGlyphs">OFF</text>
<rect x="835" y="367.300" width="5.500" height="5" fill="#444"/>
<text opacity="0.999" x="843" y="372.300" font-size="5" font-weight="bold" fill="#444" textLength="9.500" lengthAdjust="spacingAndGlyphs">ON</text>
<rect x="855" y="369.500" width="9.500" height="1.100" fill="#555"/>
<text opacity="0.999" x="867" y="372.300" font-size="5" font-weight="bold" fill="#444" textLength="12" lengthAdjust="spacingAndGlyphs">OFF</text></g>
</g>
<g id="bag" opacity="0.999">
<linearGradient id="bagg" x1="0" y1="0" x2="0" y2="1"><stop offset="0" stop-color="#e6e6e8"/><stop offset="0.125" stop-color="#e3e3e6"/><stop offset="0.14" stop-color="#ececeb"/><stop offset="0.6" stop-color="#ebebea"/><stop offset="1" stop-color="#ececec"/></linearGradient>
<rect x="71" y="575" width="147" height="190" fill="#000" opacity="0.20" filter="url(#b3)"/>
<rect x="75.700" y="571" width="143.300" height="187.500" fill="url(#bagg)"/>
<filter id="b10" x="-30%" y="-30%" width="160%" height="160%"><feGaussianBlur stdDeviation="9"/></filter>
<rect x="92" y="612" width="112" height="120" fill="#e0dfdd" filter="url(#b10)"/>
<rect x="77" y="595.500" width="140" height="2" fill="#fafafa" filter="url(#b05)"/>
<rect x="77" y="580" width="140" height="1.500" fill="#eaeae9" filter="url(#b05)"/>
<rect x="77" y="573" width="140" height="1.500" fill="#f8f8f8" filter="url(#b05)"/>
<text opacity="0.999" x="111.300" y="632.800" font-size="19.800" font-weight="bold" fill="#0c0c0c" textLength="72.500" lengthAdjust="spacingAndGlyphs">DEVICE</text>
<g filter="url(#b05)">
<circle cx="191" cy="739.6" r="7.4" fill="#a9c4d4" stroke="#9dbccf" stroke-width="0.700"/>
<circle cx="190.5" cy="739.1" r="4.6" fill="#d5e6ef"/>
<path d="M192.4 736.2 L189.6 743.0 M194.4 741.0 L187.6 738.2" stroke="#5f8aa6" stroke-width="1.300" opacity="0.85"/>
<circle cx="183" cy="723" r="7" fill="#a9c4d4" stroke="#9dbccf" stroke-width="0.700"/>
<circle cx="182.5" cy="722.5" r="4.3" fill="#d5e6ef"/>
<path d="M185.4 720.5 L180.6 725.5 M185.5 725.4 L180.5 720.6" stroke="#5f8aa6" stroke-width="1.300" opacity="0.85"/>
<circle cx="163.4" cy="741" r="6.8" fill="#a9c4d4" stroke="#9dbccf" stroke-width="0.700"/>
<circle cx="162.9" cy="740.5" r="4.2" fill="#d5e6ef"/>
<path d="M166.1 739.0 L160.7 743.0 M165.4 743.7 L161.4 738.3" stroke="#5f8aa6" stroke-width="1.300" opacity="0.85"/>
<circle cx="177" cy="740.5" r="7" fill="#d3e5ef" stroke="#9dbccf" stroke-width="0.700"/>
<circle cx="176.5" cy="740.0" r="4.3" fill="#ecf4f8"/>
<path d="M180.4 739.9 L173.6 741.1 M177.6 743.9 L176.4 737.1" stroke="#5f8aa6" stroke-width="1.300" opacity="0.85"/>
<circle cx="168" cy="725" r="7.6" fill="#d3e5ef" stroke="#9dbccf" stroke-width="0.700"/>
<circle cx="167.5" cy="724.5" r="4.7" fill="#ecf4f8"/>
<path d="M170.6 722.2 L165.4 727.8 M170.8 727.6 L165.2 722.4" stroke="#5f8aa6" stroke-width="1.300" opacity="0.85"/>
<circle cx="152" cy="730.6" r="7.2" fill="#d3e5ef" stroke="#9dbccf" stroke-width="0.700"/>
<circle cx="151.5" cy="730.1" r="4.5" fill="#ecf4f8"/>
<path d="M155.5 729.7 L148.5 731.5 M152.9 734.1 L151.1 727.1" stroke="#5f8aa6" stroke-width="1.300" opacity="0.85"/>
<circle cx="122" cy="743" r="7.2" fill="#d3e5ef" stroke="#9dbccf" stroke-width="0.700"/>
<circle cx="121.5" cy="742.5" r="4.5" fill="#ecf4f8"/>
<path d="M118.4 742.7 L125.6 743.3 M122.3 739.4 L121.7 746.6" stroke="#5f8aa6" stroke-width="1.300" opacity="0.85"/>
<circle cx="132" cy="733" r="6.6" fill="#d3e5ef" stroke="#9dbccf" stroke-width="0.700"/>
<circle cx="131.5" cy="732.5" r="4.1" fill="#ecf4f8"/>
<path d="M131.6 729.7 L132.4 736.3 M135.3 732.6 L128.7 733.4" stroke="#5f8aa6" stroke-width="1.300" opacity="0.85"/>
<circle cx="142" cy="743" r="7" fill="#d3e5ef" stroke="#9dbccf" stroke-width="0.700"/>
<circle cx="141.5" cy="742.5" r="4.3" fill="#ecf4f8"/>
<path d="M145.4 742.4 L138.6 743.6 M142.6 746.4 L141.4 739.6" stroke="#5f8aa6" stroke-width="1.300" opacity="0.85"/>
<circle cx="138" cy="719" r="7" fill="#d3e5ef" stroke="#9dbccf" stroke-width="0.700"/>
<circle cx="137.5" cy="718.5" r="4.3" fill="#ecf4f8"/>
<path d="M139.6 715.9 L136.4 722.1 M141.1 720.6 L134.9 717.4" stroke="#5f8aa6" stroke-width="1.300" opacity="0.85"/>
</g>
</g>
<g id="screws">
<linearGradient id="shaftg" x1="0" y1="0" x2="1" y2="0">
<stop offset="0" stop-color="#6f6d69"/><stop offset="0.18" stop-color="#8e8c88"/><stop offset="0.5" stop-color="#d6d4d0"/><stop offset="0.72" stop-color="#c2c0bc"/><stop offset="1" stop-color="#858380"/>
</linearGradient>
<g filter="url(#b05)"><ellipse cx="259.3" cy="719" rx="11" ry="8" fill="#000" opacity="0.16" filter="url(#b3)"/>
<ellipse cx="256.3" cy="706" rx="7" ry="12" fill="#000" opacity="0.10" filter="url(#b3)"/>
<ellipse cx="266.3" cy="708" rx="6" ry="11" fill="#000" opacity="0.05" filter="url(#b3)"/>
<rect x="254.60000000000002" y="697" width="13.400" height="20.300" rx="1.500" fill="url(#shaftg)"/>
<rect x="254.60000000000002" y="699.5" width="13.400" height="0.900" fill="#5f5d59" opacity="0.40"/>
<rect x="254.60000000000002" y="701.8" width="13.400" height="0.900" fill="#5f5d59" opacity="0.40"/>
<rect x="254.60000000000002" y="704.1" width="13.400" height="0.900" fill="#5f5d59" opacity="0.40"/>
<rect x="254.60000000000002" y="706.4" width="13.400" height="0.900" fill="#5f5d59" opacity="0.40"/>
<rect x="254.60000000000002" y="708.7" width="13.400" height="0.900" fill="#5f5d59" opacity="0.40"/>
<rect x="254.60000000000002" y="711.0" width="13.400" height="0.900" fill="#5f5d59" opacity="0.40"/>
<rect x="254.60000000000002" y="713.3" width="13.400" height="0.900" fill="#5f5d59" opacity="0.40"/>
<rect x="254.60000000000002" y="715.6" width="13.400" height="0.900" fill="#5f5d59" opacity="0.40"/>
<path d="M249.60000000000002 694 Q249.60000000000002 691.600 254.3 691.600 L268.3 691.600 Q273.0 691.600 273.0 694 Q270.3 697 268.0 698 L254.60000000000002 698 Q252.3 697 249.60000000000002 694 Z" fill="#e4e4e1"/>
<path d="M250.3 693.600 Q261.3 696.500 272.3 693.600" stroke="#fbfbfa" stroke-width="1.600" fill="none"/>
<path d="M255.3 692.300 Q261.3 691.600 269.3 692.600 L264.3 694.200 Q260.3 693.200 255.3 692.300 Z" fill="#8f8e8a" opacity="0.85"/>
<path d="M251.3 695.600 Q253.3 697.400 254.8 698" stroke="#b9b8b4" stroke-width="1" fill="none"/></g>
<g filter="url(#b05)"><ellipse cx="307.5" cy="719" rx="11" ry="8" fill="#000" opacity="0.16" filter="url(#b3)"/>
<ellipse cx="304.5" cy="706" rx="7" ry="12" fill="#000" opacity="0.10" filter="url(#b3)"/>
<ellipse cx="314.5" cy="708" rx="6" ry="11" fill="#000" opacity="0.05" filter="url(#b3)"/>
<rect x="302.8" y="697" width="13.400" height="20.300" rx="1.500" fill="url(#shaftg)"/>
<rect x="302.8" y="699.5" width="13.400" height="0.900" fill="#5f5d59" opacity="0.40"/>
<rect x="302.8" y="701.8" width="13.400" height="0.900" fill="#5f5d59" opacity="0.40"/>
<rect x="302.8" y="704.1" width="13.400" height="0.900" fill="#5f5d59" opacity="0.40"/>
<rect x="302.8" y="706.4" width="13.400" height="0.900" fill="#5f5d59" opacity="0.40"/>
<rect x="302.8" y="708.7" width="13.400" height="0.900" fill="#5f5d59" opacity="0.40"/>
<rect x="302.8" y="711.0" width="13.400" height="0.900" fill="#5f5d59" opacity="0.40"/>
<rect x="302.8" y="713.3" width="13.400" height="0.900" fill="#5f5d59" opacity="0.40"/>
<rect x="302.8" y="715.6" width="13.400" height="0.900" fill="#5f5d59" opacity="0.40"/>
<path d="M297.8 694 Q297.8 691.600 302.5 691.600 L316.5 691.600 Q321.2 691.600 321.2 694 Q318.5 697 316.2 698 L302.8 698 Q300.5 697 297.8 694 Z" fill="#e4e4e1"/>
<path d="M298.5 693.600 Q309.5 696.500 320.5 693.600" stroke="#fbfbfa" stroke-width="1.600" fill="none"/>
<path d="M303.5 692.300 Q309.5 691.600 317.5 692.600 L312.5 694.200 Q308.5 693.200 303.5 692.300 Z" fill="#8f8e8a" opacity="0.85"/>
<path d="M299.5 695.600 Q301.5 697.400 303.0 698" stroke="#b9b8b4" stroke-width="1" fill="none"/></g>
<g filter="url(#b05)"><ellipse cx="355" cy="719" rx="11" ry="8" fill="#000" opacity="0.16" filter="url(#b3)"/>
<ellipse cx="352" cy="706" rx="7" ry="12" fill="#000" opacity="0.10" filter="url(#b3)"/>
<ellipse cx="362" cy="708" rx="6" ry="11" fill="#000" opacity="0.05" filter="url(#b3)"/>
<rect x="350.3" y="697" width="13.400" height="20.300" rx="1.500" fill="url(#shaftg)"/>
<rect x="350.3" y="699.5" width="13.400" height="0.900" fill="#5f5d59" opacity="0.40"/>
<rect x="350.3" y="701.8" width="13.400" height="0.900" fill="#5f5d59" opacity="0.40"/>
<rect x="350.3" y="704.1" width="13.400" height="0.900" fill="#5f5d59" opacity="0.40"/>
<rect x="350.3" y="706.4" width="13.400" height="0.900" fill="#5f5d59" opacity="0.40"/>
<rect x="350.3" y="708.7" width="13.400" height="0.900" fill="#5f5d59" opacity="0.40"/>
<rect x="350.3" y="711.0" width="13.400" height="0.900" fill="#5f5d59" opacity="0.40"/>
<rect x="350.3" y="713.3" width="13.400" height="0.900" fill="#5f5d59" opacity="0.40"/>
<rect x="350.3" y="715.6" width="13.400" height="0.900" fill="#5f5d59" opacity="0.40"/>
<path d="M345.3 694 Q345.3 691.600 350 691.600 L364 691.600 Q368.7 691.600 368.7 694 Q366 697 363.7 698 L350.3 698 Q348 697 345.3 694 Z" fill="#e4e4e1"/>
<path d="M346 693.600 Q357 696.500 368 693.600" stroke="#fbfbfa" stroke-width="1.600" fill="none"/>
<path d="M351 692.300 Q357 691.600 365 692.600 L360 694.200 Q356 693.200 351 692.300 Z" fill="#8f8e8a" opacity="0.85"/>
<path d="M347 695.600 Q349 697.400 350.5 698" stroke="#b9b8b4" stroke-width="1" fill="none"/></g>
<g filter="url(#b05)"><ellipse cx="403.5" cy="719" rx="11" ry="8" fill="#000" opacity="0.16" filter="url(#b3)"/>
<ellipse cx="400.5" cy="706" rx="7" ry="12" fill="#000" opacity="0.10" filter="url(#b3)"/>
<ellipse cx="410.5" cy="708" rx="6" ry="11" fill="#000" opacity="0.05" filter="url(#b3)"/>
<rect x="398.8" y="697" width="13.400" height="20.300" rx="1.500" fill="url(#shaftg)"/>
<rect x="398.8" y="699.5" width="13.400" height="0.900" fill="#5f5d59" opacity="0.40"/>
<rect x="398.8" y="701.8" width="13.400" height="0.900" fill="#5f5d59" opacity="0.40"/>
<rect x="398.8" y="704.1" width="13.400" height="0.900" fill="#5f5d59" opacity="0.40"/>
<rect x="398.8" y="706.4" width="13.400" height="0.900" fill="#5f5d59" opacity="0.40"/>
<rect x="398.8" y="708.7" width="13.400" height="0.900" fill="#5f5d59" opacity="0.40"/>
<rect x="398.8" y="711.0" width="13.400" height="0.900" fill="#5f5d59" opacity="0.40"/>
<rect x="398.8" y="713.3" width="13.400" height="0.900" fill="#5f5d59" opacity="0.40"/>
<rect x="398.8" y="715.6" width="13.400" height="0.900" fill="#5f5d59" opacity="0.40"/>
<path d="M393.8 694 Q393.8 691.600 398.5 691.600 L412.5 691.600 Q417.2 691.600 417.2 694 Q414.5 697 412.2 698 L398.8 698 Q396.5 697 393.8 694 Z" fill="#e4e4e1"/>
<path d="M394.5 693.600 Q405.5 696.500 416.5 693.600" stroke="#fbfbfa" stroke-width="1.600" fill="none"/>
<path d="M399.5 692.300 Q405.5 691.600 413.5 692.600 L408.5 694.200 Q404.5 693.200 399.5 692.300 Z" fill="#8f8e8a" opacity="0.85"/>
<path d="M395.5 695.600 Q397.5 697.400 399.0 698" stroke="#b9b8b4" stroke-width="1" fill="none"/></g>
<g filter="url(#b05)"><ellipse cx="255.5" cy="759" rx="7" ry="5.500" fill="#000" opacity="0.15" filter="url(#b3)"/>
<ellipse cx="253.5" cy="749" rx="4.500" ry="9" fill="#000" opacity="0.09" filter="url(#b2)"/>
<rect x="252.2" y="740.500" width="9.600" height="17.500" rx="1.200" fill="url(#shaftg)"/>
<rect x="252.2" y="743.5" width="9.600" height="0.800" fill="#5f5d59" opacity="0.35"/>
<rect x="252.2" y="745.8" width="9.600" height="0.800" fill="#5f5d59" opacity="0.35"/>
<rect x="252.2" y="748.1" width="9.600" height="0.800" fill="#5f5d59" opacity="0.35"/>
<rect x="252.2" y="750.4" width="9.600" height="0.800" fill="#5f5d59" opacity="0.35"/>
<rect x="252.2" y="752.7" width="9.600" height="0.800" fill="#5f5d59" opacity="0.35"/>
<rect x="252.2" y="755.0" width="9.600" height="0.800" fill="#5f5d59" opacity="0.35"/>
<path d="M249 738.300 L265 738.300 Q263.5 740.500 261.8 741.500 L252.2 741.500 Q250.5 740.500 249 738.300 Z" fill="#deded9"/>
<path d="M249.5 738.600 L264.5 738.600" stroke="#f6f6f4" stroke-width="1"/>
<path d="M254 738.200 L261 738.200" stroke="#9a9995" stroke-width="0.800"/></g>
<g filter="url(#b05)"><ellipse cx="287.5" cy="759" rx="7" ry="5.500" fill="#000" opacity="0.15" filter="url(#b3)"/>
<ellipse cx="285.5" cy="749" rx="4.500" ry="9" fill="#000" opacity="0.09" filter="url(#b2)"/>
<rect x="284.2" y="740.500" width="9.600" height="17.500" rx="1.200" fill="url(#shaftg)"/>
<rect x="284.2" y="743.5" width="9.600" height="0.800" fill="#5f5d59" opacity="0.35"/>
<rect x="284.2" y="745.8" width="9.600" height="0.800" fill="#5f5d59" opacity="0.35"/>
<rect x="284.2" y="748.1" width="9.600" height="0.800" fill="#5f5d59" opacity="0.35"/>
<rect x="284.2" y="750.4" width="9.600" height="0.800" fill="#5f5d59" opacity="0.35"/>
<rect x="284.2" y="752.7" width="9.600" height="0.800" fill="#5f5d59" opacity="0.35"/>
<rect x="284.2" y="755.0" width="9.600" height="0.800" fill="#5f5d59" opacity="0.35"/>
<path d="M281 738.300 L297 738.300 Q295.5 740.500 293.8 741.500 L284.2 741.500 Q282.5 740.500 281 738.300 Z" fill="#deded9"/>
<path d="M281.5 738.600 L296.5 738.600" stroke="#f6f6f4" stroke-width="1"/>
<path d="M286 738.200 L293 738.200" stroke="#9a9995" stroke-width="0.800"/></g>
<g filter="url(#b05)"><ellipse cx="320.0" cy="759" rx="7" ry="5.500" fill="#000" opacity="0.15" filter="url(#b3)"/>
<ellipse cx="318.0" cy="749" rx="4.500" ry="9" fill="#000" opacity="0.09" filter="url(#b2)"/>
<rect x="316.7" y="740.500" width="9.600" height="17.500" rx="1.200" fill="url(#shaftg)"/>
<rect x="316.7" y="743.5" width="9.600" height="0.800" fill="#5f5d59" opacity="0.35"/>
<rect x="316.7" y="745.8" width="9.600" height="0.800" fill="#5f5d59" opacity="0.35"/>
<rect x="316.7" y="748.1" width="9.600" height="0.800" fill="#5f5d59" opacity="0.35"/>
<rect x="316.7" y="750.4" width="9.600" height="0.800" fill="#5f5d59" opacity="0.35"/>
<rect x="316.7" y="752.7" width="9.600" height="0.800" fill="#5f5d59" opacity="0.35"/>
<rect x="316.7" y="755.0" width="9.600" height="0.800" fill="#5f5d59" opacity="0.35"/>
<path d="M313.5 738.300 L329.5 738.300 Q328.0 740.500 326.3 741.500 L316.7 741.500 Q315.0 740.500 313.5 738.300 Z" fill="#deded9"/>
<path d="M314.0 738.600 L329.0 738.600" stroke="#f6f6f4" stroke-width="1"/>
<path d="M318.5 738.200 L325.5 738.200" stroke="#9a9995" stroke-width="0.800"/></g>
<g filter="url(#b05)"><ellipse cx="352.5" cy="759" rx="7" ry="5.500" fill="#000" opacity="0.15" filter="url(#b3)"/>
<ellipse cx="350.5" cy="749" rx="4.500" ry="9" fill="#000" opacity="0.09" filter="url(#b2)"/>
<rect x="349.2" y="740.500" width="9.600" height="17.500" rx="1.200" fill="url(#shaftg)"/>
<rect x="349.2" y="743.5" width="9.600" height="0.800" fill="#5f5d59" opacity="0.35"/>
<rect x="349.2" y="745.8" width="9.600" height="0.800" fill="#5f5d59" opacity="0.35"/>
<rect x="349.2" y="748.1" width="9.600" height="0.800" fill="#5f5d59" opacity="0.35"/>
<rect x="349.2" y="750.4" width="9.600" height="0.800" fill="#5f5d59" opacity="0.35"/>
<rect x="349.2" y="752.7" width="9.600" height="0.800" fill="#5f5d59" opacity="0.35"/>
<rect x="349.2" y="755.0" width="9.600" height="0.800" fill="#5f5d59" opacity="0.35"/>
<path d="M346 738.300 L362 738.300 Q360.5 740.500 358.8 741.500 L349.2 741.500 Q347.5 740.500 346 738.300 Z" fill="#deded9"/>
<path d="M346.5 738.600 L361.5 738.600" stroke="#f6f6f4" stroke-width="1"/>
<path d="M351 738.200 L358 738.200" stroke="#9a9995" stroke-width="0.800"/></g>
<g filter="url(#b05)"><ellipse cx="385.5" cy="759" rx="7" ry="5.500" fill="#000" opacity="0.15" filter="url(#b3)"/>
<ellipse cx="383.5" cy="749" rx="4.500" ry="9" fill="#000" opacity="0.09" filter="url(#b2)"/>
<rect x="382.2" y="740.500" width="9.600" height="17.500" rx="1.200" fill="url(#shaftg)"/>
<rect x="382.2" y="743.5" width="9.600" height="0.800" fill="#5f5d59" opacity="0.35"/>
<rect x="382.2" y="745.8" width="9.600" height="0.800" fill="#5f5d59" opacity="0.35"/>
<rect x="382.2" y="748.1" width="9.600" height="0.800" fill="#5f5d59" opacity="0.35"/>
<rect x="382.2" y="750.4" width="9.600" height="0.800" fill="#5f5d59" opacity="0.35"/>
<rect x="382.2" y="752.7" width="9.600" height="0.800" fill="#5f5d59" opacity="0.35"/>
<rect x="382.2" y="755.0" width="9.600" height="0.800" fill="#5f5d59" opacity="0.35"/>
<path d="M379 738.300 L395 738.300 Q393.5 740.500 391.8 741.500 L382.2 741.500 Q380.5 740.500 379 738.300 Z" fill="#deded9"/>
<path d="M379.5 738.600 L394.5 738.600" stroke="#f6f6f4" stroke-width="1"/>
<path d="M384 738.200 L391 738.200" stroke="#9a9995" stroke-width="0.800"/></g>
<g filter="url(#b05)"><ellipse cx="418.0" cy="759" rx="7" ry="5.500" fill="#000" opacity="0.15" filter="url(#b3)"/>
<ellipse cx="416.0" cy="749" rx="4.500" ry="9" fill="#000" opacity="0.09" filter="url(#b2)"/>
<rect x="414.7" y="740.500" width="9.600" height="17.500" rx="1.200" fill="url(#shaftg)"/>
<rect x="414.7" y="743.5" width="9.600" height="0.800" fill="#5f5d59" opacity="0.35"/>
<rect x="414.7" y="745.8" width="9.600" height="0.800" fill="#5f5d59" opacity="0.35"/>
<rect x="414.7" y="748.1" width="9.600" height="0.800" fill="#5f5d59" opacity="0.35"/>
<rect x="414.7" y="750.4" width="9.600" height="0.800" fill="#5f5d59" opacity="0.35"/>
<rect x="414.7" y="752.7" width="9.600" height="0.800" fill="#5f5d59" opacity="0.35"/>
<rect x="414.7" y="755.0" width="9.600" height="0.800" fill="#5f5d59" opacity="0.35"/>
<path d="M411.5 738.300 L427.5 738.300 Q426.0 740.500 424.3 741.500 L414.7 741.500 Q413.0 740.500 411.5 738.300 Z" fill="#deded9"/>
<path d="M412.0 738.600 L427.0 738.600" stroke="#f6f6f4" stroke-width="1"/>
<path d="M416.5 738.200 L423.5 738.200" stroke="#9a9995" stroke-width="0.800"/></g>
</g>
<g id="cable">
<linearGradient id="cbag" x1="0" y1="0" x2="0" y2="1"><stop offset="0" stop-color="#cdd3e3"/><stop offset="0.4" stop-color="#c2c7d9"/><stop offset="1" stop-color="#c4c9da"/></linearGradient>
<path d="M445 552 L585 548 L589 767 L449 769 Z" fill="#000" opacity="0.10" filter="url(#b3)"/>
<path d="M443.500 548.500 L583 544.500 L586.500 763.500 L447 765.500 Z" fill="url(#cbag)"/>
<path d="M478 655 L552 655 L552 735 L495 742 Z" fill="#c7cddd" opacity="0.9" filter="url(#b4)"/>
<path d="M446 552 L582 548 L582.500 560 L446 564 Z" fill="#d6dbe9" opacity="0.8" filter="url(#b2)"/>
<path d="M448 752 L585 750 L586 763 L448 765 Z" fill="#c0c5d6" opacity="0.7" filter="url(#b2)"/>
<ellipse cx="472" cy="555" rx="24" ry="3.5" transform="rotate(-4 472 555)" fill="#f2f4fa" opacity="0.55" filter="url(#b2)"/>
<ellipse cx="562" cy="556" rx="16" ry="5" transform="rotate(12 562 556)" fill="#f2f4fa" opacity="0.55" filter="url(#b2)"/>
<ellipse cx="500" cy="582" rx="22" ry="3.5" transform="rotate(5 500 582)" fill="#f2f4fa" opacity="0.5" filter="url(#b2)"/>
<ellipse cx="545" cy="588" rx="18" ry="4" transform="rotate(12 545 588)" fill="#f2f4fa" opacity="0.5" filter="url(#b2)"/>
<ellipse cx="462" cy="597" rx="16" ry="4" transform="rotate(-8 462 597)" fill="#f2f4fa" opacity="0.45" filter="url(#b2)"/>
<ellipse cx="488" cy="606" rx="20" ry="3" transform="rotate(-10 488 606)" fill="#f2f4fa" opacity="0.4" filter="url(#b2)"/>
<ellipse cx="560" cy="600" rx="14" ry="3" transform="rotate(8 560 600)" fill="#f2f4fa" opacity="0.4" filter="url(#b2)"/>
<ellipse cx="462" cy="732" rx="8" ry="16" transform="rotate(-35 462 732)" fill="#f2f4fa" opacity="0.7" filter="url(#b2)"/>
<ellipse cx="470" cy="750" rx="14" ry="5" transform="rotate(20 470 750)" fill="#f2f4fa" opacity="0.6" filter="url(#b2)"/>
<ellipse cx="572" cy="742" rx="10" ry="5" transform="rotate(30 572 742)" fill="#f2f4fa" opacity="0.6" filter="url(#b2)"/>
<ellipse cx="458" cy="715" rx="4" ry="10" transform="rotate(-25 458 715)" fill="#f2f4fa" opacity="0.5" filter="url(#b2)"/>
<ellipse cx="578" cy="752" rx="8" ry="4" transform="rotate(25 578 752)" fill="#f2f4fa" opacity="0.5" filter="url(#b2)"/>
<ellipse cx="573" cy="698" rx="3" ry="10" transform="rotate(-12 573 698)" fill="#f2f4fa" opacity="0.4" filter="url(#b2)"/>
<ellipse cx="520" cy="552" rx="40" ry="3" transform="rotate(-2 520 552)" fill="#f2f4fa" opacity="0.4" filter="url(#b2)"/>
<path d="M452 557 L470 553" stroke="#f4f5fb" stroke-width="2.200" stroke-linecap="round" fill="none" opacity="0.75" filter="url(#b1)"/>
<path d="M468 563 L482 560" stroke="#f4f5fb" stroke-width="2.200" stroke-linecap="round" fill="none" opacity="0.75" filter="url(#b1)"/>
<path d="M556 551 L572 557" stroke="#f4f5fb" stroke-width="2.200" stroke-linecap="round" fill="none" opacity="0.75" filter="url(#b1)"/>
<path d="M563 560 L578 563" stroke="#f4f5fb" stroke-width="2.200" stroke-linecap="round" fill="none" opacity="0.75" filter="url(#b1)"/>
<path d="M450 586 L475 581" stroke="#f4f5fb" stroke-width="2.200" stroke-linecap="round" fill="none" opacity="0.75" filter="url(#b1)"/>
<path d="M480 578 L500 581" stroke="#f4f5fb" stroke-width="2.200" stroke-linecap="round" fill="none" opacity="0.75" filter="url(#b1)"/>
<path d="M505 576 L535 584" stroke="#f4f5fb" stroke-width="2.200" stroke-linecap="round" fill="none" opacity="0.75" filter="url(#b1)"/>
<path d="M448 593 L462 590" stroke="#f4f5fb" stroke-width="2.200" stroke-linecap="round" fill="none" opacity="0.75" filter="url(#b1)"/>
<path d="M545 590 L575 598" stroke="#f4f5fb" stroke-width="2.200" stroke-linecap="round" fill="none" opacity="0.75" filter="url(#b1)"/>
<path d="M470 601 L490 596" stroke="#f4f5fb" stroke-width="2.200" stroke-linecap="round" fill="none" opacity="0.75" filter="url(#b1)"/>
<path d="M455 613 L470 606" stroke="#f4f5fb" stroke-width="2.200" stroke-linecap="round" fill="none" opacity="0.75" filter="url(#b1)"/>
<path d="M478 619 L495 612" stroke="#f4f5fb" stroke-width="2.200" stroke-linecap="round" fill="none" opacity="0.75" filter="url(#b1)"/>
<path d="M540 598 L560 594" stroke="#f4f5fb" stroke-width="2.200" stroke-linecap="round" fill="none" opacity="0.75" filter="url(#b1)"/>
<path d="M562 583 L578 580" stroke="#f4f5fb" stroke-width="2.200" stroke-linecap="round" fill="none" opacity="0.75" filter="url(#b1)"/>
<path d="M500 567 L520 563" stroke="#f4f5fb" stroke-width="2.200" stroke-linecap="round" fill="none" opacity="0.75" filter="url(#b1)"/>
<path d="M520 590 L540 596" stroke="#f4f5fb" stroke-width="2.200" stroke-linecap="round" fill="none" opacity="0.75" filter="url(#b1)"/>
<path d="M470 570 L495 566" stroke="#f4f5fb" stroke-width="2.200" stroke-linecap="round" fill="none" opacity="0.75" filter="url(#b1)"/>
<path d="M452 715 L470 735" stroke="#f4f5fb" stroke-width="2.200" stroke-linecap="round" fill="none" opacity="0.75" filter="url(#b1)"/>
<path d="M455 740 L472 750" stroke="#f4f5fb" stroke-width="2.200" stroke-linecap="round" fill="none" opacity="0.75" filter="url(#b1)"/>
<path d="M462 720 L482 745" stroke="#f4f5fb" stroke-width="2.200" stroke-linecap="round" fill="none" opacity="0.75" filter="url(#b1)"/>
<path d="M560 735 L580 748" stroke="#f4f5fb" stroke-width="2.200" stroke-linecap="round" fill="none" opacity="0.75" filter="url(#b1)"/>
<path d="M565 745 L584 752" stroke="#f4f5fb" stroke-width="2.200" stroke-linecap="round" fill="none" opacity="0.75" filter="url(#b1)"/>
<path d="M572 688 L577 705" stroke="#f4f5fb" stroke-width="2.200" stroke-linecap="round" fill="none" opacity="0.75" filter="url(#b1)"/>
<path d="M455 756 L478 761" stroke="#f4f5fb" stroke-width="2.200" stroke-linecap="round" fill="none" opacity="0.75" filter="url(#b1)"/>
<path d="M540 754 L562 750" stroke="#f4f5fb" stroke-width="2.200" stroke-linecap="round" fill="none" opacity="0.75" filter="url(#b1)"/>
<path d="M450 700 L458 722" stroke="#f4f5fb" stroke-width="2.200" stroke-linecap="round" fill="none" opacity="0.75" filter="url(#b1)"/>
<path d="M475 735 L490 752" stroke="#f4f5fb" stroke-width="2.200" stroke-linecap="round" fill="none" opacity="0.75" filter="url(#b1)"/>
<path d="M566 720 L574 740" stroke="#f4f5fb" stroke-width="2.200" stroke-linecap="round" fill="none" opacity="0.75" filter="url(#b1)"/>
<path d="M552.3 635.8 L552.5 636.2 L552.8 636.8 L553.2 637.4 L553.6 638.1 L554.0 639.0 L554.5 639.9 L555.0 640.8 L555.5 641.9 L555.9 642.9 L556.4 644.0 L556.8 645.0 L557.2 645.9 L557.7 646.8 L558.2 647.9 L558.7 649.1 L559.2 650.4 L559.7 651.8 L560.2 653.5 L560.7 655.4 L561.1 657.5 L561.5 659.9 L561.9 662.6 L562.3 665.5 L562.7 668.6 L563.1 671.9 L563.5 675.3 L563.8 678.7 L564.0 682.2 L564.1 685.7 L564.1 689.1 L564.0 692.5 L563.7 696.1 L563.4 699.8 L563.0 703.5 L562.5 707.2 L562.0 710.9 L561.4 714.4 L560.8 717.7 L560.2 720.8 L559.5 723.6 L558.9 726.1 L558.2 728.4 L557.4 730.5 L556.6 732.4 L555.8 734.1 L554.9 735.7 L554.0 737.2 L553.1 738.7 L552.1 740.1 L551.1 741.5 L550.1 742.9 L549.0 744.3 L547.9 745.6 L546.7 746.9 L545.5 748.1 L544.2 749.3 L542.8 750.4 L541.4 751.4 L539.8 752.4 L538.2 753.3 L536.5 754.2 L534.7 755.0 L532.7 755.8 L530.7 756.6 L528.6 757.2 L526.5 757.8 L524.4 758.3 L522.2 758.7 L520.1 759.0 L518.0 759.1 L516.0 759.0 L513.9 758.8 L511.8 758.5 L509.8 758.0 L507.8 757.4 L505.9 756.8 L504.0 756.1 L502.2 755.3 L500.5 754.6 L498.9 753.8 L497.4 753.1 L496.0 752.4 L494.6 751.7 L493.3 750.8 L492.1 750.0 L490.8 749.0 L489.6 747.8 L488.4 746.6 L487.2 745.2 L485.9 743.6 L484.6 741.8 L483.4 739.9 L482.0 737.8 L480.7 735.6 L479.4 733.3 L478.2 730.8 L476.9 728.2 L475.7 725.5 L474.6 722.7 L473.5 719.8 L472.6 716.8 L471.6 713.5 L470.7 710.1 L469.9 706.6 L469.1 703.0 L468.4 699.3 L467.7 695.7 L467.0 692.2 L466.5 688.7 L465.9 685.4 L465.5 682.1 L465.1 678.7 L464.8 675.4 L464.5 672.1 L464.3 668.8 L464.1 665.7 L464.0 662.7 L463.8 660.0 L463.7 657.4 L463.6 655.1 L463.5 653.1 L463.4 651.2 L463.4 649.5 L463.4 648.0 L463.4 646.6 L463.4 645.4 L463.4 644.4 L463.4 643.5 L463.4 642.7 L463.4 642.0" stroke="#19181c" stroke-width="5.600" fill="none" stroke-linecap="round" stroke-linejoin="round"/>
<path d="M547.9 638.1 L548.1 638.6 L548.4 639.2 L548.8 639.8 L549.2 640.5 L549.6 641.3 L550.0 642.2 L550.5 643.0 L550.9 644.0 L551.4 644.9 L551.8 645.9 L552.2 647.0 L552.7 648.0 L553.2 649.0 L553.7 650.0 L554.1 651.0 L554.5 652.1 L555.0 653.3 L555.4 654.8 L555.8 656.4 L556.1 658.4 L556.5 660.7 L556.9 663.4 L557.4 666.2 L557.8 669.3 L558.2 672.5 L558.5 675.7 L558.8 679.1 L559.0 682.4 L559.1 685.7 L559.1 688.9 L559.0 692.2 L558.7 695.7 L558.4 699.3 L558.0 702.9 L557.6 706.5 L557.0 710.1 L556.5 713.5 L555.9 716.8 L555.3 719.8 L554.7 722.4 L554.1 724.8 L553.4 726.8 L552.7 728.7 L552.1 730.3 L551.3 731.9 L550.6 733.3 L549.8 734.6 L548.9 735.9 L548.0 737.2 L547.1 738.6 L546.1 739.9 L545.1 741.2 L544.1 742.3 L543.1 743.4 L542.0 744.5 L540.9 745.5 L539.8 746.4 L538.6 747.3 L537.3 748.1 L535.9 748.9 L534.3 749.7 L532.7 750.4 L530.9 751.2 L529.1 751.8 L527.2 752.5 L525.3 753.0 L523.4 753.4 L521.5 753.8 L519.7 754.0 L518.0 754.1 L516.3 754.1 L514.6 753.9 L512.8 753.6 L511.0 753.1 L509.3 752.6 L507.5 752.1 L505.8 751.4 L504.1 750.7 L502.5 750.0 L501.0 749.3 L499.6 748.6 L498.3 748.0 L497.2 747.3 L496.1 746.7 L495.1 746.0 L494.1 745.2 L493.1 744.3 L492.1 743.2 L491.0 742.0 L489.9 740.6 L488.8 738.9 L487.5 737.1 L486.3 735.2 L485.1 733.1 L483.8 730.9 L482.6 728.6 L481.4 726.1 L480.3 723.6 L479.3 720.9 L478.3 718.2 L477.3 715.3 L476.4 712.2 L475.6 708.9 L474.8 705.5 L474.0 701.9 L473.3 698.4 L472.6 694.8 L472.0 691.3 L471.4 687.9 L470.9 684.6 L470.4 681.5 L470.1 678.2 L469.8 675.0 L469.5 671.7 L469.3 668.5 L469.1 665.5 L469.0 662.5 L468.8 659.7 L468.7 657.2 L468.6 654.9 L468.5 652.8 L468.4 651.0 L468.4 649.4 L468.4 647.9 L468.4 646.6 L468.4 645.5 L468.4 644.4 L468.4 643.5 L468.4 642.7 L468.4 642.0" stroke="#ac1c27" stroke-width="4.600" fill="none" stroke-linecap="round" stroke-linejoin="round"/>
<path d="M547.2 750.0 L545.9 751.3 L544.4 752.4 L542.8 753.6 L541.2 754.6 L539.5 755.6 L537.6 756.5 L535.7 757.4 L533.7 758.2 L531.6 759.0 L529.4 759.7 L527.2 760.4 L524.9 760.9 L522.6 761.3 L520.3 761.6 L518.1 761.7 L515.8 761.6 L513.5 761.4 L511.3 761.0 L509.1 760.5 L507.0 759.9 L505.0 759.2 L503.0 758.5 L501.2 757.7 L499.4 757.0 L497.8 756.2 L496.2 755.4 L494.8 754.7 L493.3 753.9 L491.9 753.0 L490.5 752.0" stroke="#ac1c27" stroke-width="2.600" fill="none" stroke-linecap="round"/>
<path d="M503 750 Q516 755 530 751" stroke="#f3f3f7" stroke-width="1.300" fill="none" opacity="0.9"/>
<path d="M497 746 L504 750" stroke="#f3f3f7" stroke-width="1.600" fill="none" opacity="0.9"/>
<path d="M459.500 611 L474.500 611 Q476 611 476 613 L476 620.500 L477 621.500 L477 641 Q477 645 474 645 L459 645 Q456 645 456 641 L456 622 L459 620.500 L459 612 Z" fill="#151517"/>
<rect x="461" y="613.500" width="12" height="7" fill="#232327"/>
<g transform="translate(547.100 624.400) rotate(-14.400)">
<path d="M-31 -18 L-26 -18 L-25 -9 L17 -9 L18 -21 L23 -21 L24 -10 L28 -9 L29 7 L25 9 L24 14 L-20 19 L-27 18 L-30 2 Z" fill="#151517"/>
<rect x="-24.500" y="-19" width="41.500" height="11" fill="#1b1b1d"/>
<rect x="-23" y="-16.500" width="38" height="7.500" fill="#7d7630"/>
<rect x="-22.5" y="-16.500" width="1.800" height="7.500" fill="#d6ca60"/>
<rect x="-19.6" y="-16.500" width="1.800" height="7.500" fill="#d6ca60"/>
<rect x="-16.7" y="-16.500" width="1.800" height="7.500" fill="#d6ca60"/>
<rect x="-13.8" y="-16.500" width="1.800" height="7.500" fill="#d6ca60"/>
<rect x="-10.9" y="-16.500" width="1.800" height="7.500" fill="#d6ca60"/>
<rect x="-8.0" y="-16.500" width="1.800" height="7.500" fill="#d6ca60"/>
<rect x="-5.1" y="-16.500" width="1.800" height="7.500" fill="#d6ca60"/>
<rect x="-2.2" y="-16.500" width="1.800" height="7.500" fill="#d6ca60"/>
<rect x="0.7" y="-16.500" width="1.800" height="7.500" fill="#d6ca60"/>
<rect x="3.6" y="-16.500" width="1.800" height="7.500" fill="#d6ca60"/>
<rect x="6.5" y="-16.500" width="1.800" height="7.500" fill="#d6ca60"/>
<rect x="9.4" y="-16.500" width="1.800" height="7.500" fill="#d6ca60"/>
<rect x="12.3" y="-16.500" width="1.800" height="7.500" fill="#d6ca60"/>
<path d="M-21 8 L-4 -1 L-9 9 L-16 12 Z" fill="#f4f4f6"/>
<path d="M-12 9 L-8 5 L-10 12 Z" fill="#151517"/>
<path d="M-26 14 L-23 24" stroke="#ececf0" stroke-width="1.300" fill="none"/>
</g>
<path d="M548 641 Q551 632 561 626" stroke="#f2f2f5" stroke-width="1.800" fill="none" stroke-linecap="round"/>
<path d="M546 648 L549 640" stroke="#f2f2f5" stroke-width="1.200" fill="none"/>
</g>
<g id="caption" opacity="0.999">
<text opacity="0.999" x="370.800" y="890.600" font-size="35.600" fill="#eea626" textLength="127" lengthAdjust="spacingAndGlyphs">Package</text>
<text opacity="0.999" x="509.800" y="890.600" font-size="35.600" fill="#eea626" textLength="123" lengthAdjust="spacingAndGlyphs">Content</text>
<text opacity="0.999" x="199.200" y="940" font-size="31.200" fill="#555555" textLength="611" lengthAdjust="spacingAndGlyphs">Device / User Manual / Screws / Power Cable</text>
</g>
</svg>
</body></html>
